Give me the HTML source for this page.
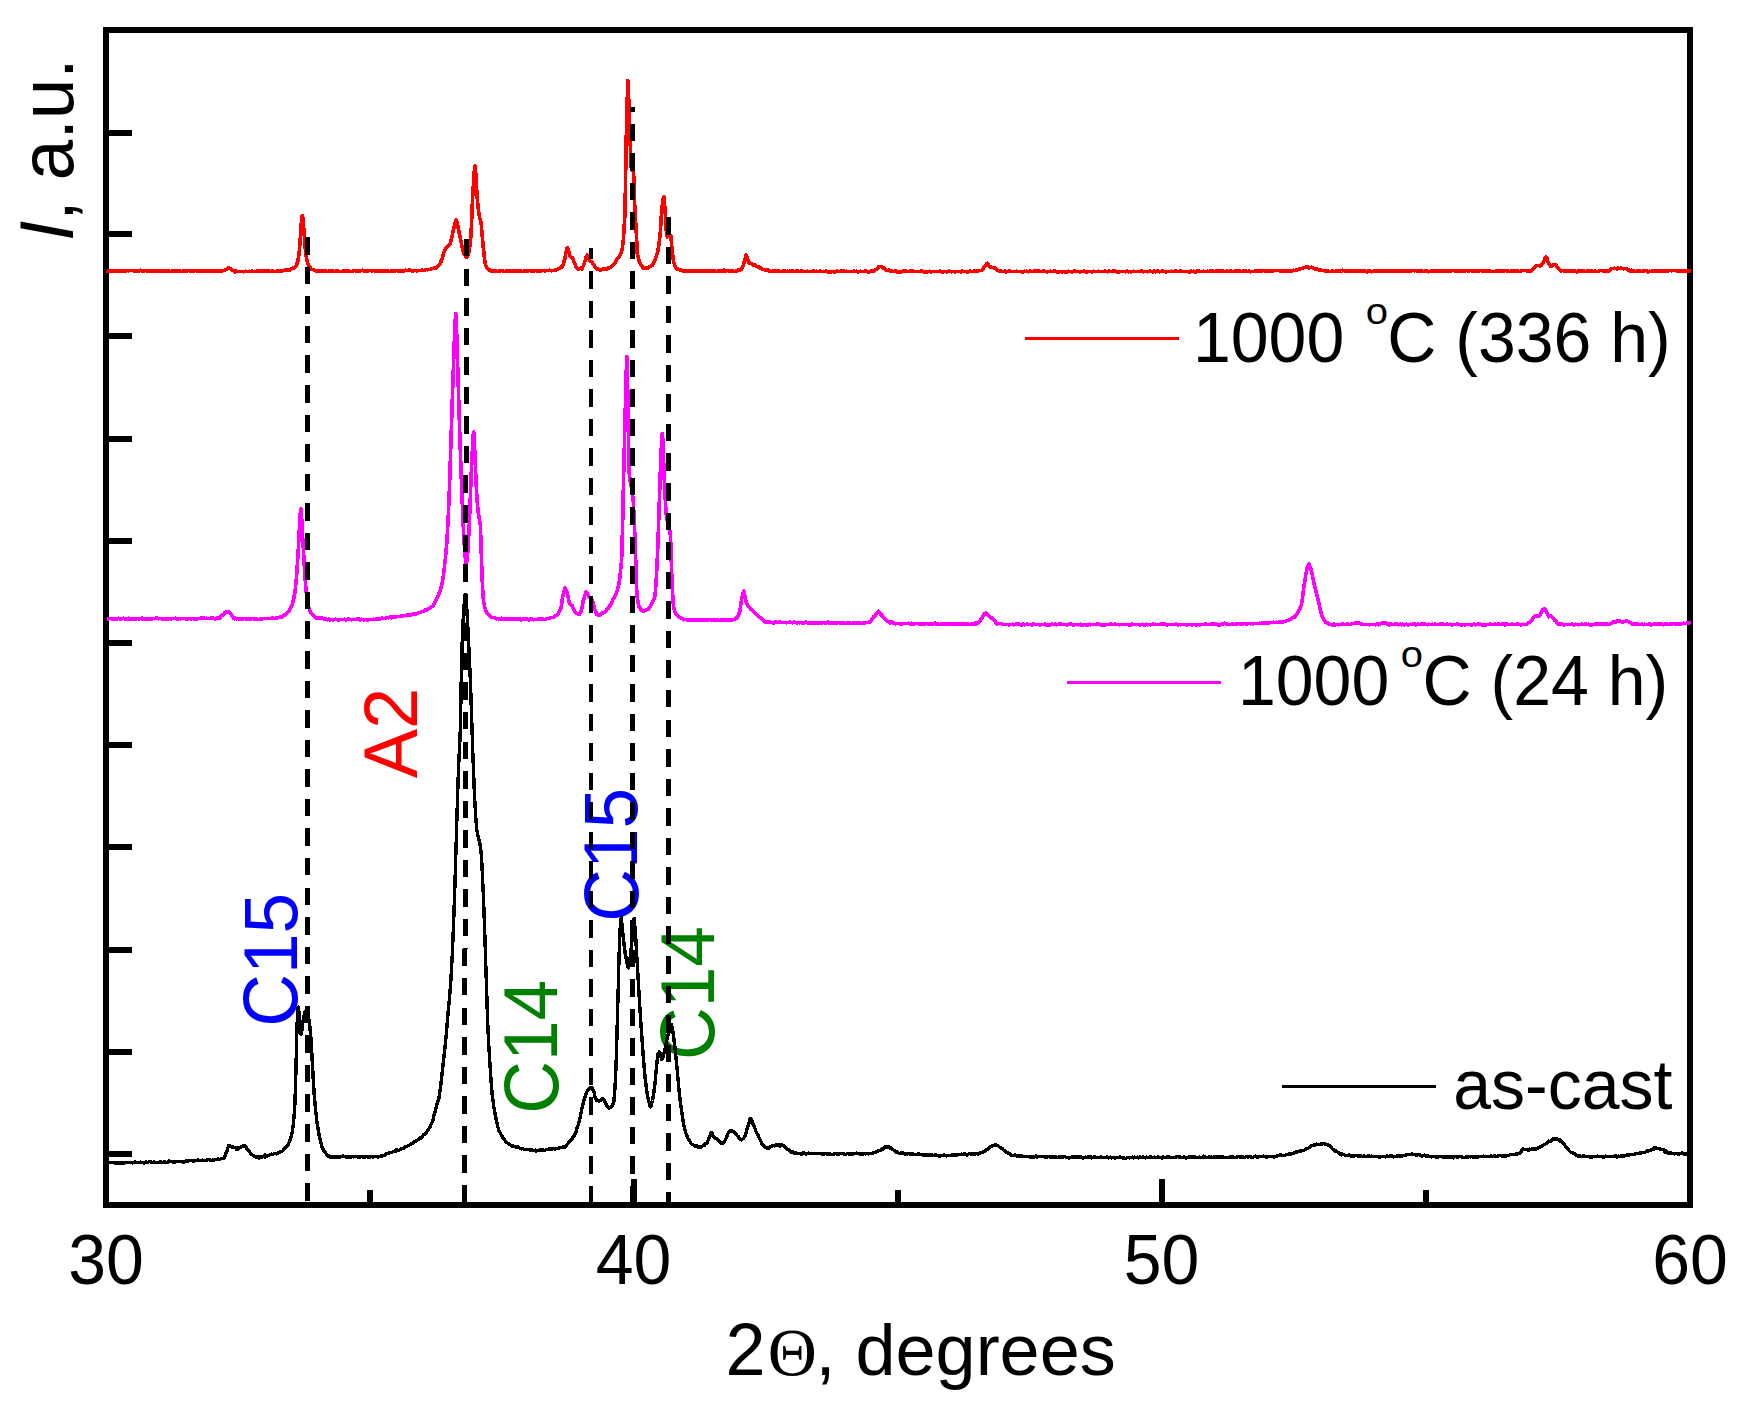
<!DOCTYPE html>
<html><head><meta charset="utf-8"><title>XRD patterns</title>
<style>
html,body{margin:0;padding:0;background:#fff;}
svg{display:block;}
text{font-family:"Liberation Sans",sans-serif;fill:#000;}
.ser{font-family:"Liberation Serif",serif;}
</style></head><body>
<svg width="1746" height="1410" viewBox="0 0 1746 1410">
<rect x="0" y="0" width="1746" height="1410" fill="#fff"/>
<g fill="none" stroke="#000" stroke-width="6" stroke-linecap="butt" shape-rendering="crispEdges">
<rect x="106.0" y="30.0" width="1584.0" height="1175.0"/>
<line x1="106.0" y1="133.0" x2="132" y2="133.0"/>
<line x1="106.0" y1="234.0" x2="132" y2="234.0"/>
<line x1="106.0" y1="336.3" x2="132" y2="336.3"/>
<line x1="106.0" y1="438.5" x2="132" y2="438.5"/>
<line x1="106.0" y1="540.7" x2="132" y2="540.7"/>
<line x1="106.0" y1="642.9" x2="132" y2="642.9"/>
<line x1="106.0" y1="745.1" x2="132" y2="745.1"/>
<line x1="106.0" y1="847.4" x2="132" y2="847.4"/>
<line x1="106.0" y1="949.6" x2="132" y2="949.6"/>
<line x1="106.0" y1="1051.8" x2="132" y2="1051.8"/>
<line x1="106.0" y1="1154.0" x2="132" y2="1154.0"/>
<line x1="370.0" y1="1205.0" x2="370.0" y2="1190"/>
<line x1="898.0" y1="1205.0" x2="898.0" y2="1190"/>
<line x1="1426.0" y1="1205.0" x2="1426.0" y2="1190"/>
<line x1="634.0" y1="1205.0" x2="634.0" y2="1179"/>
<line x1="1162.0" y1="1205.0" x2="1162.0" y2="1179"/>
</g>
<g font-size="73">
<text transform="translate(296.9,1026.8) rotate(-90) scale(1,1.066)" style="fill:#00f">C</text>
<text transform="translate(296.5,974.1) rotate(-90) scale(1,1.04)" style="fill:#00f">15</text>
<text transform="translate(557.7,1113.8) rotate(-90) scale(1,1.066)" style="fill:#008000">C</text>
<text transform="translate(557.3,1061.1) rotate(-90) scale(1,1.04)" style="fill:#008000">14</text>
<text transform="translate(637.7,921.8) rotate(-90) scale(1,1.066)" style="fill:#00f">C</text>
<text transform="translate(637.3,869.1) rotate(-90) scale(1,1.04)" style="fill:#00f">15</text>
<text transform="translate(714.4,1060) rotate(-90) scale(1,1.066)" style="fill:#008000">C</text>
<text transform="translate(714,1007.3) rotate(-90) scale(1,1.04)" style="fill:#008000">14</text>
<text transform="translate(417,778.3) rotate(-90) scale(1,1.015)" font-size="74" style="fill:#f00">A2</text>
</g>
<g fill="none" stroke-linejoin="round" stroke-linecap="butt" shape-rendering="crispEdges">
<path stroke="#000" stroke-width="3.4" d="M106.5,1162.6 L107.8,1162.6 L109.1,1162.3 L110.4,1162.8 L111.7,1162.5 L113.0,1162.2 L114.3,1162.6 L115.6,1163.3 L116.9,1162.3 L118.2,1163.0 L119.5,1163.1 L120.8,1163.1 L122.1,1162.2 L123.4,1163.3 L124.7,1162.6 L126.0,1162.4 L127.3,1162.4 L128.6,1162.7 L129.9,1162.5 L131.2,1162.4 L132.5,1163.0 L133.8,1162.2 L135.1,1162.1 L136.4,1162.7 L137.7,1162.7 L139.0,1162.8 L140.3,1162.0 L141.6,1162.8 L142.9,1162.6 L144.2,1163.0 L145.5,1161.9 L146.8,1162.4 L148.1,1162.2 L149.4,1161.7 L150.7,1162.0 L152.0,1162.7 L153.3,1162.1 L154.6,1162.0 L155.9,1162.5 L157.2,1162.6 L158.5,1162.5 L159.8,1161.8 L161.1,1162.1 L162.4,1162.5 L163.7,1161.8 L165.0,1161.8 L166.3,1162.4 L167.6,1162.6 L168.7,1161.6 L168.9,1161.0 L170.2,1161.4 L171.5,1161.6 L172.8,1161.9 L174.1,1162.1 L175.4,1161.8 L176.7,1161.5 L178.0,1161.8 L179.3,1161.3 L180.6,1161.6 L181.9,1161.3 L183.2,1162.5 L184.5,1161.7 L185.8,1161.0 L187.1,1160.9 L188.4,1161.1 L189.7,1160.5 L191.0,1160.8 L192.3,1160.7 L193.6,1161.2 L194.9,1160.7 L196.2,1160.4 L197.5,1160.2 L198.8,1160.1 L200.0,1160.5 L200.1,1160.4 L201.4,1160.8 L202.7,1160.1 L204.0,1160.7 L205.3,1160.3 L206.6,1160.2 L207.9,1159.3 L209.2,1159.5 L210.5,1160.2 L211.8,1160.4 L213.1,1159.9 L214.4,1160.0 L215.7,1159.4 L217.0,1159.3 L218.3,1159.0 L219.6,1159.4 L220.9,1158.9 L222.2,1158.5 L223.5,1158.1 L223.7,1158.4 L224.8,1156.7 L226.1,1152.7 L226.5,1152.7 L227.4,1149.3 L228.7,1145.6 L229.0,1146.0 L230.0,1146.0 L231.3,1146.4 L232.6,1147.5 L233.0,1147.1 L233.9,1147.6 L235.2,1147.5 L236.5,1149.2 L237.5,1148.1 L237.8,1149.0 L239.1,1147.9 L240.4,1147.0 L241.0,1146.9 L241.7,1146.7 L243.0,1145.9 L243.9,1146.1 L244.3,1145.6 L245.6,1147.0 L246.9,1148.2 L247.0,1148.8 L248.2,1150.1 L249.5,1151.8 L250.8,1153.6 L251.2,1154.0 L252.1,1154.8 L253.4,1155.8 L254.7,1156.2 L255.0,1156.2 L256.0,1157.1 L257.3,1156.6 L258.6,1157.2 L259.2,1158.1 L259.9,1156.4 L261.2,1156.9 L262.5,1157.1 L263.8,1155.7 L265.0,1157.0 L265.1,1155.0 L266.4,1156.2 L267.7,1155.9 L269.0,1155.3 L270.3,1154.6 L271.0,1154.6 L271.6,1154.0 L272.9,1154.5 L274.2,1153.5 L275.5,1153.6 L276.8,1153.9 L278.1,1152.8 L278.7,1152.9 L279.4,1152.8 L280.7,1151.5 L282.0,1151.6 L283.3,1150.2 L284.0,1148.9 L284.6,1149.0 L285.9,1147.4 L287.2,1145.8 L287.9,1145.0 L288.5,1143.6 L289.8,1141.0 L290.5,1138.2 L291.1,1137.0 L292.4,1131.0 L292.4,1131.3 L293.7,1120.8 L294.7,1107.8 L295.0,1101.2 L295.9,1071.8 L296.3,1054.6 L297.0,1026.6 L297.6,1013.5 L298.2,1007.1 L298.9,1011.5 L299.5,1018.1 L300.2,1026.4 L301.1,1034.4 L301.5,1033.2 L302.8,1022.9 L303.0,1021.7 L304.1,1015.5 L305.0,1012.1 L305.4,1012.0 L306.7,1013.2 L307.0,1012.9 L308.0,1015.3 L309.0,1019.8 L309.3,1021.1 L310.6,1034.9 L310.8,1036.5 L311.9,1054.9 L312.5,1065.7 L313.2,1078.8 L314.2,1094.5 L314.5,1098.2 L315.8,1111.6 L317.1,1123.2 L317.6,1126.0 L318.4,1131.4 L319.7,1138.2 L321.0,1143.4 L322.2,1147.8 L322.3,1147.4 L323.6,1150.2 L324.9,1152.1 L326.0,1153.4 L326.2,1154.1 L327.5,1155.8 L328.8,1155.8 L329.0,1156.8 L330.1,1156.8 L331.4,1157.1 L332.7,1157.1 L334.0,1156.5 L335.0,1156.6 L335.3,1157.7 L336.6,1157.1 L337.9,1156.5 L339.2,1157.1 L340.5,1156.9 L341.8,1156.3 L343.1,1156.1 L344.4,1156.4 L345.7,1157.1 L347.0,1157.0 L348.3,1156.9 L349.6,1157.1 L350.9,1157.2 L352.2,1156.2 L353.5,1156.9 L354.8,1156.7 L356.1,1156.5 L357.4,1156.8 L358.7,1156.9 L360.0,1156.9 L361.3,1156.4 L362.6,1156.8 L363.9,1157.7 L365.2,1156.5 L366.5,1156.3 L367.8,1157.0 L369.1,1157.2 L370.4,1157.1 L371.7,1156.5 L373.0,1157.3 L374.3,1156.6 L375.0,1156.5 L375.6,1156.7 L376.9,1156.8 L378.2,1156.9 L379.5,1156.6 L380.8,1156.1 L382.1,1156.1 L383.4,1155.4 L384.7,1155.2 L386.0,1153.9 L387.3,1153.4 L388.6,1153.8 L389.9,1152.5 L391.2,1152.4 L392.5,1152.0 L393.2,1151.6 L393.8,1151.4 L395.1,1151.7 L396.4,1149.7 L397.7,1150.5 L399.0,1150.6 L400.3,1149.2 L401.6,1148.6 L402.9,1148.4 L404.2,1148.2 L405.5,1146.5 L406.8,1146.3 L408.1,1145.6 L409.3,1145.2 L409.4,1145.0 L410.7,1144.5 L412.0,1143.4 L413.3,1142.8 L414.6,1141.8 L415.9,1141.0 L417.2,1140.3 L418.5,1139.4 L419.8,1138.0 L421.1,1138.0 L422.4,1136.3 L423.7,1134.6 L425.0,1134.2 L425.3,1133.2 L426.3,1132.6 L427.6,1130.6 L428.9,1128.7 L430.2,1126.4 L431.5,1123.4 L432.2,1122.0 L432.8,1121.1 L434.1,1114.8 L435.4,1110.3 L436.0,1108.2 L436.7,1105.2 L438.0,1100.7 L439.0,1097.8 L439.3,1095.3 L440.6,1087.0 L441.9,1075.0 L443.0,1065.0 L443.2,1063.4 L444.5,1051.9 L445.8,1039.5 L446.0,1037.2 L447.1,1024.7 L448.4,1009.2 L448.5,1008.5 L449.7,995.6 L450.5,985.2 L451.0,977.9 L452.3,954.3 L452.5,949.8 L453.6,923.0 L454.5,897.3 L454.9,885.3 L456.0,849.2 L456.2,842.8 L457.5,797.9 L458.2,777.6 L458.8,762.9 L460.1,736.4 L460.4,726.4 L461.4,671.7 L461.5,666.8 L462.6,628.9 L462.7,627.6 L464.0,605.1 L464.0,605.7 L465.3,594.7 L465.5,595.7 L466.6,605.8 L467.0,612.3 L467.9,628.9 L468.1,634.1 L469.2,654.8 L470.3,678.3 L470.5,683.1 L471.8,722.4 L472.5,744.2 L473.1,760.6 L474.4,793.1 L474.7,799.2 L475.7,816.7 L477.0,831.8 L477.0,831.3 L478.3,837.2 L479.6,842.5 L480.2,845.3 L480.9,850.4 L481.5,856.8 L482.2,871.3 L482.4,875.7 L483.5,897.6 L483.5,897.4 L484.8,935.0 L485.0,940.1 L486.1,974.3 L487.4,1014.2 L488.0,1029.3 L488.7,1043.9 L490.0,1065.3 L490.0,1064.9 L491.3,1084.2 L492.3,1095.4 L492.6,1097.6 L493.9,1107.4 L495.0,1113.1 L495.2,1115.0 L496.5,1120.6 L497.8,1126.7 L499.0,1131.0 L499.1,1130.9 L500.4,1133.2 L501.7,1135.6 L503.0,1137.8 L504.0,1139.1 L504.3,1139.3 L505.6,1141.3 L506.9,1142.7 L508.2,1143.6 L509.5,1144.4 L510.0,1144.6 L510.8,1145.3 L512.1,1146.0 L513.4,1146.2 L514.7,1146.8 L516.0,1146.9 L517.3,1146.8 L518.6,1147.3 L519.9,1148.3 L520.0,1148.2 L521.2,1148.9 L522.5,1148.5 L523.8,1149.1 L525.1,1149.6 L526.4,1149.7 L527.7,1149.3 L529.0,1149.7 L530.3,1150.0 L531.6,1149.7 L532.9,1150.4 L534.2,1150.7 L535.5,1150.2 L536.3,1151.1 L536.8,1150.3 L538.1,1150.3 L539.4,1150.2 L540.7,1149.9 L542.0,1150.2 L543.3,1149.9 L544.6,1150.4 L545.9,1149.8 L547.2,1149.6 L548.5,1149.1 L549.8,1148.5 L550.0,1149.0 L551.1,1148.5 L552.4,1149.1 L553.7,1148.6 L555.0,1149.1 L556.3,1148.5 L557.6,1148.4 L558.9,1148.0 L560.2,1147.7 L561.5,1147.6 L562.8,1147.4 L563.4,1146.6 L564.1,1146.8 L565.4,1146.9 L566.7,1144.9 L568.0,1143.6 L569.3,1142.0 L570.6,1140.0 L571.9,1139.3 L572.8,1137.5 L573.2,1137.0 L574.5,1135.2 L575.8,1132.4 L577.1,1127.6 L578.4,1124.4 L578.6,1123.6 L579.7,1119.3 L581.0,1113.0 L582.3,1106.4 L583.3,1103.0 L583.6,1101.6 L584.9,1097.1 L586.2,1093.5 L587.5,1090.5 L588.0,1089.7 L588.8,1088.7 L590.1,1088.1 L591.0,1087.4 L591.4,1087.3 L592.7,1089.0 L593.5,1090.9 L594.0,1092.1 L595.3,1097.9 L596.2,1100.1 L596.6,1099.4 L597.9,1100.8 L599.2,1101.2 L599.5,1101.1 L600.5,1100.2 L601.8,1099.8 L602.7,1098.6 L603.1,1098.6 L604.4,1100.6 L605.5,1103.0 L605.7,1103.7 L607.0,1106.2 L608.3,1107.9 L609.0,1107.7 L609.6,1107.9 L610.9,1107.1 L611.5,1106.9 L612.2,1105.5 L613.5,1103.1 L613.7,1102.6 L614.8,1090.7 L616.0,1067.5 L616.1,1064.7 L617.4,1019.5 L618.0,996.8 L618.7,969.0 L619.6,938.9 L620.0,930.7 L621.2,918.0 L621.3,917.5 L622.6,931.2 L623.0,935.2 L623.9,942.8 L625.2,953.5 L625.5,954.7 L626.5,960.5 L627.8,966.2 L628.5,967.9 L629.1,966.1 L630.4,955.4 L631.0,949.8 L631.7,943.0 L633.0,925.4 L634.1,918.3 L634.3,919.4 L635.6,935.1 L636.9,958.9 L637.1,961.3 L638.2,979.5 L639.5,1001.9 L640.7,1020.4 L640.8,1022.4 L642.1,1040.0 L643.4,1058.3 L644.7,1073.0 L645.3,1079.5 L646.0,1084.9 L647.3,1094.6 L648.0,1097.8 L648.6,1100.4 L649.9,1105.8 L650.5,1106.8 L651.2,1105.4 L652.5,1100.5 L652.5,1100.5 L653.8,1092.6 L654.7,1085.6 L655.1,1082.5 L656.4,1067.4 L657.7,1055.7 L658.2,1053.3 L659.0,1052.4 L659.4,1051.8 L660.3,1054.0 L661.6,1059.7 L661.7,1059.6 L662.9,1057.3 L663.5,1055.0 L664.2,1052.2 L665.2,1048.4 L665.5,1047.8 L666.8,1040.3 L668.0,1034.7 L668.1,1034.5 L669.4,1028.3 L670.7,1024.2 L671.1,1024.2 L672.0,1027.1 L673.3,1034.0 L673.5,1036.0 L674.6,1044.5 L675.8,1055.6 L675.9,1056.5 L677.2,1069.8 L678.5,1084.7 L679.8,1097.2 L680.4,1102.4 L681.1,1107.6 L682.4,1116.6 L683.7,1124.2 L685.0,1130.5 L685.1,1130.5 L686.3,1134.5 L687.6,1137.7 L688.5,1139.1 L688.9,1139.9 L690.2,1142.0 L691.5,1144.1 L692.2,1144.2 L692.8,1144.4 L694.1,1145.5 L695.4,1146.1 L696.7,1145.7 L698.0,1147.3 L699.3,1146.9 L700.3,1146.9 L700.6,1147.3 L701.9,1146.5 L703.2,1145.5 L704.5,1145.7 L705.0,1144.1 L705.8,1143.9 L707.1,1142.9 L707.4,1141.8 L708.4,1139.7 L709.7,1135.9 L710.0,1135.9 L711.0,1132.5 L711.6,1132.3 L712.3,1133.8 L713.0,1135.5 L713.6,1136.1 L714.4,1137.7 L714.9,1137.9 L716.2,1138.6 L717.5,1139.4 L717.5,1139.4 L718.8,1140.7 L720.1,1142.5 L721.4,1142.9 L721.4,1143.2 L722.7,1143.2 L724.0,1142.3 L724.0,1142.5 L725.3,1139.9 L726.6,1137.1 L727.5,1135.3 L727.9,1133.7 L729.2,1131.9 L730.5,1130.5 L730.8,1131.0 L731.8,1130.9 L733.1,1131.5 L734.4,1132.5 L735.0,1133.0 L735.7,1133.2 L737.0,1135.5 L738.3,1136.7 L739.6,1138.7 L740.9,1139.4 L741.3,1139.8 L742.2,1139.1 L743.5,1138.4 L744.8,1135.9 L744.8,1136.5 L746.1,1132.5 L747.4,1127.9 L747.5,1127.5 L748.7,1123.9 L750.0,1119.1 L750.7,1119.3 L751.3,1119.0 L752.6,1123.0 L753.9,1125.7 L754.5,1127.6 L755.2,1128.9 L756.5,1133.0 L757.8,1134.7 L758.9,1137.5 L759.1,1137.7 L760.4,1140.1 L761.7,1143.2 L762.5,1144.8 L763.0,1145.0 L764.3,1146.8 L765.6,1147.4 L766.9,1148.0 L767.0,1147.9 L768.2,1147.9 L769.5,1147.9 L770.8,1146.6 L772.0,1146.1 L772.1,1145.7 L773.4,1145.4 L774.7,1145.9 L776.0,1144.7 L777.3,1144.7 L777.6,1145.0 L778.6,1144.9 L779.9,1145.9 L781.2,1144.4 L782.5,1145.6 L783.4,1146.0 L783.8,1145.4 L785.1,1146.8 L786.4,1148.6 L786.5,1149.1 L787.7,1149.2 L789.0,1150.0 L790.3,1151.8 L790.5,1152.1 L791.6,1151.7 L792.9,1151.4 L794.2,1153.2 L795.5,1152.8 L796.8,1153.6 L798.1,1153.3 L799.4,1153.2 L799.8,1153.2 L800.7,1154.0 L802.0,1154.0 L803.3,1152.7 L804.6,1153.1 L805.9,1154.2 L807.2,1153.4 L808.5,1153.0 L809.8,1153.6 L811.1,1153.6 L812.4,1153.6 L813.7,1153.5 L815.0,1153.5 L816.3,1153.5 L817.6,1153.8 L818.9,1153.4 L820.2,1153.6 L821.5,1153.7 L822.8,1154.2 L824.1,1153.9 L825.4,1153.7 L826.7,1154.0 L828.0,1153.9 L829.3,1154.2 L830.6,1154.0 L831.9,1154.5 L833.2,1154.3 L834.5,1153.8 L835.8,1153.7 L837.1,1154.2 L838.4,1154.1 L839.7,1153.8 L841.0,1153.3 L842.3,1153.2 L843.6,1154.0 L844.9,1154.2 L846.2,1154.2 L847.5,1153.4 L848.8,1154.3 L850.1,1153.7 L851.4,1154.0 L852.7,1154.1 L854.0,1153.6 L855.3,1153.7 L856.6,1153.1 L857.9,1153.6 L859.2,1153.2 L860.0,1154.1 L860.5,1153.9 L861.8,1154.2 L863.1,1154.0 L864.4,1153.6 L865.7,1153.9 L867.0,1153.6 L868.3,1153.9 L869.6,1153.7 L870.0,1153.2 L870.9,1153.5 L872.2,1153.2 L873.5,1152.7 L874.8,1152.7 L876.0,1152.7 L876.1,1151.8 L877.4,1151.4 L878.7,1150.2 L880.0,1150.5 L881.3,1149.7 L882.0,1148.7 L882.6,1149.1 L883.9,1147.8 L884.5,1146.9 L885.2,1146.9 L886.5,1146.5 L887.3,1147.1 L887.8,1146.3 L889.1,1147.0 L890.4,1148.4 L890.5,1147.7 L891.7,1148.7 L893.0,1149.8 L894.3,1150.6 L895.0,1151.5 L895.6,1151.9 L896.9,1152.0 L898.2,1152.9 L899.5,1153.6 L900.0,1153.6 L900.8,1152.7 L902.1,1153.1 L903.4,1153.0 L904.7,1154.1 L906.0,1154.0 L907.3,1154.1 L908.6,1153.6 L909.9,1153.6 L910.0,1154.0 L911.2,1154.1 L912.5,1153.8 L913.8,1154.3 L915.1,1154.6 L916.4,1154.5 L917.7,1154.1 L919.0,1153.8 L920.3,1154.6 L921.6,1154.8 L922.9,1154.8 L924.2,1154.8 L925.5,1154.8 L926.8,1155.4 L928.1,1155.1 L929.4,1155.3 L930.7,1154.9 L932.0,1155.1 L933.3,1155.4 L934.6,1155.0 L935.9,1155.0 L937.2,1155.4 L938.5,1156.0 L939.8,1155.6 L940.0,1156.1 L941.1,1155.4 L942.4,1155.4 L943.7,1154.9 L945.0,1155.2 L946.3,1155.9 L947.6,1155.4 L948.9,1155.5 L950.2,1155.4 L951.5,1155.0 L952.8,1154.9 L954.1,1154.9 L955.4,1155.0 L956.7,1154.9 L958.0,1154.8 L959.3,1154.6 L960.0,1154.2 L960.6,1154.4 L961.9,1154.1 L963.2,1154.7 L964.5,1153.5 L965.8,1154.2 L967.1,1155.1 L968.4,1154.0 L969.7,1153.7 L971.0,1154.0 L972.3,1154.4 L973.6,1153.8 L974.9,1154.0 L976.2,1153.7 L977.5,1153.4 L978.0,1154.7 L978.8,1153.4 L980.1,1152.9 L981.4,1152.4 L982.7,1152.2 L984.0,1151.6 L985.0,1151.3 L985.3,1150.9 L986.6,1149.4 L987.9,1149.2 L989.2,1147.9 L990.0,1147.4 L990.5,1146.7 L991.8,1146.2 L993.1,1145.4 L994.4,1145.2 L995.6,1144.4 L995.7,1145.0 L997.0,1145.5 L998.3,1145.9 L999.6,1147.2 L1000.9,1148.1 L1001.0,1148.8 L1002.2,1148.3 L1003.5,1150.1 L1004.8,1150.5 L1006.1,1151.8 L1007.4,1153.0 L1008.0,1152.8 L1008.7,1153.4 L1010.0,1153.6 L1011.3,1155.2 L1012.6,1155.2 L1013.9,1155.7 L1015.0,1155.0 L1015.2,1155.1 L1016.5,1156.1 L1017.8,1155.8 L1019.1,1156.0 L1020.4,1156.3 L1021.7,1155.8 L1023.0,1156.7 L1024.3,1156.5 L1025.0,1156.7 L1025.6,1156.3 L1026.9,1156.7 L1028.2,1156.3 L1029.5,1157.0 L1030.8,1157.1 L1032.1,1157.0 L1033.4,1156.9 L1034.7,1157.0 L1036.0,1155.7 L1037.3,1157.1 L1038.6,1156.7 L1039.9,1156.8 L1041.2,1156.7 L1042.5,1156.3 L1043.8,1156.6 L1045.1,1157.1 L1046.4,1157.4 L1047.7,1156.7 L1049.0,1156.6 L1050.3,1157.5 L1051.6,1156.6 L1052.9,1157.7 L1054.2,1157.0 L1055.5,1156.6 L1056.8,1157.3 L1058.1,1157.6 L1059.4,1156.4 L1060.0,1157.6 L1060.7,1156.9 L1062.0,1157.6 L1063.3,1156.9 L1064.6,1156.4 L1065.9,1157.2 L1067.2,1157.4 L1068.5,1157.9 L1069.8,1157.8 L1071.1,1157.4 L1072.4,1157.0 L1073.7,1156.9 L1075.0,1157.0 L1076.3,1156.8 L1077.6,1157.1 L1078.9,1156.2 L1080.2,1157.3 L1081.5,1157.2 L1082.8,1158.2 L1084.1,1157.5 L1085.4,1157.1 L1086.7,1157.5 L1088.0,1156.8 L1089.3,1157.1 L1090.6,1156.6 L1091.9,1157.9 L1093.2,1157.5 L1094.5,1156.9 L1095.8,1157.3 L1097.1,1157.7 L1098.4,1157.6 L1099.7,1157.5 L1101.0,1157.1 L1102.3,1157.2 L1103.6,1157.4 L1104.9,1157.8 L1106.2,1157.1 L1107.5,1157.0 L1108.8,1157.9 L1110.1,1157.1 L1111.4,1157.9 L1112.7,1157.5 L1114.0,1157.8 L1115.3,1158.1 L1116.6,1157.7 L1117.9,1157.8 L1119.2,1157.1 L1120.5,1157.2 L1121.8,1157.7 L1123.1,1158.1 L1124.4,1158.0 L1125.7,1158.4 L1127.0,1157.6 L1128.3,1157.6 L1129.6,1157.9 L1130.0,1157.5 L1130.9,1157.5 L1132.2,1157.1 L1133.5,1157.9 L1134.8,1157.1 L1136.1,1157.7 L1137.4,1157.0 L1138.7,1157.9 L1140.0,1157.1 L1141.3,1157.8 L1142.6,1156.9 L1143.9,1157.3 L1145.2,1157.9 L1146.5,1157.2 L1147.8,1157.5 L1149.1,1157.3 L1150.4,1156.6 L1151.7,1157.6 L1153.0,1157.6 L1154.3,1157.1 L1155.6,1157.7 L1156.9,1157.2 L1158.2,1157.1 L1159.5,1157.5 L1160.8,1157.2 L1162.1,1158.3 L1163.4,1156.9 L1164.7,1157.7 L1166.0,1157.8 L1167.3,1156.7 L1168.6,1156.8 L1169.9,1157.6 L1171.2,1157.2 L1172.5,1157.6 L1173.8,1157.8 L1175.1,1157.3 L1176.4,1157.0 L1177.7,1156.4 L1179.0,1157.5 L1180.3,1157.0 L1181.6,1157.5 L1182.9,1157.5 L1184.2,1156.8 L1185.5,1158.0 L1186.8,1157.8 L1188.1,1157.7 L1189.4,1156.9 L1190.7,1157.2 L1192.0,1157.1 L1193.3,1157.2 L1194.6,1156.9 L1195.9,1157.5 L1197.2,1157.4 L1198.5,1157.4 L1199.8,1157.1 L1201.1,1157.8 L1202.4,1157.3 L1203.7,1156.2 L1205.0,1157.0 L1206.3,1157.2 L1207.6,1157.6 L1208.9,1157.1 L1210.2,1157.1 L1211.5,1157.0 L1212.8,1157.5 L1214.1,1157.0 L1215.4,1157.0 L1216.7,1156.9 L1218.0,1157.4 L1219.3,1157.0 L1220.6,1156.5 L1221.9,1157.4 L1223.2,1156.9 L1224.5,1157.3 L1225.8,1157.3 L1227.1,1157.6 L1228.4,1157.5 L1229.7,1156.9 L1231.0,1157.0 L1232.3,1156.6 L1233.6,1157.7 L1234.9,1157.2 L1236.2,1157.6 L1237.5,1156.9 L1238.8,1156.2 L1240.0,1157.6 L1240.1,1157.0 L1241.4,1157.0 L1242.7,1157.0 L1244.0,1157.2 L1245.3,1157.2 L1246.6,1156.3 L1247.9,1157.3 L1249.2,1156.7 L1250.5,1156.7 L1251.8,1157.5 L1253.1,1157.2 L1254.4,1156.7 L1255.7,1156.1 L1257.0,1156.9 L1258.3,1157.0 L1259.6,1156.7 L1260.9,1156.3 L1262.2,1156.4 L1263.5,1156.2 L1264.8,1156.7 L1266.1,1156.9 L1267.4,1157.0 L1268.7,1156.3 L1270.0,1156.6 L1270.0,1156.7 L1271.3,1156.3 L1272.6,1156.3 L1273.9,1157.1 L1275.2,1156.2 L1276.5,1156.3 L1277.8,1155.7 L1279.1,1155.7 L1280.4,1154.9 L1281.7,1155.3 L1283.0,1155.6 L1284.0,1155.8 L1284.3,1155.4 L1285.6,1155.0 L1286.9,1154.6 L1288.2,1154.1 L1289.5,1154.0 L1290.8,1154.1 L1292.1,1153.2 L1293.4,1153.6 L1294.7,1152.6 L1296.0,1151.9 L1297.3,1151.9 L1298.6,1151.3 L1299.9,1151.0 L1300.0,1151.9 L1301.2,1151.0 L1302.5,1150.7 L1303.8,1150.4 L1305.1,1149.8 L1306.4,1148.5 L1307.7,1148.6 L1309.0,1147.6 L1310.0,1147.0 L1310.3,1147.0 L1311.6,1145.7 L1312.9,1145.3 L1314.2,1145.0 L1315.5,1144.8 L1316.8,1144.1 L1317.0,1144.2 L1318.1,1144.4 L1319.4,1144.4 L1320.7,1144.1 L1322.0,1144.2 L1322.4,1143.5 L1323.3,1143.6 L1324.6,1144.1 L1325.9,1144.2 L1327.2,1144.5 L1328.0,1145.6 L1328.5,1145.1 L1329.8,1145.7 L1331.1,1147.3 L1332.4,1149.0 L1333.7,1149.5 L1335.0,1151.0 L1335.0,1150.3 L1336.3,1151.2 L1337.6,1152.0 L1338.9,1153.0 L1340.2,1154.4 L1341.0,1153.6 L1341.5,1154.8 L1342.8,1154.1 L1344.1,1154.7 L1345.4,1155.4 L1346.7,1155.6 L1348.0,1155.6 L1349.3,1155.0 L1350.0,1155.8 L1350.6,1155.3 L1351.9,1156.8 L1353.2,1155.8 L1354.5,1156.0 L1355.8,1155.5 L1357.1,1155.9 L1358.4,1155.6 L1359.7,1156.5 L1361.0,1156.1 L1362.3,1156.4 L1363.6,1156.0 L1364.9,1156.1 L1366.2,1156.8 L1367.5,1156.0 L1368.8,1155.7 L1370.1,1156.6 L1371.4,1156.0 L1372.7,1156.3 L1374.0,1156.8 L1375.3,1156.2 L1376.6,1156.8 L1377.9,1156.2 L1379.2,1157.1 L1380.0,1157.0 L1380.5,1156.3 L1381.8,1156.4 L1383.1,1156.2 L1384.4,1156.5 L1385.7,1156.9 L1387.0,1155.9 L1388.3,1156.8 L1389.6,1155.9 L1390.9,1156.0 L1392.2,1155.6 L1393.5,1157.1 L1394.8,1156.2 L1396.1,1156.3 L1397.4,1155.9 L1398.7,1156.5 L1400.0,1155.2 L1400.0,1156.0 L1401.3,1156.7 L1402.6,1155.6 L1403.9,1155.5 L1405.2,1155.5 L1406.5,1154.6 L1407.8,1154.7 L1409.1,1154.8 L1410.4,1154.4 L1411.7,1154.3 L1412.0,1154.1 L1413.0,1154.3 L1414.3,1154.3 L1415.6,1155.0 L1416.9,1155.0 L1418.2,1154.8 L1419.5,1154.3 L1420.8,1155.7 L1422.1,1155.9 L1423.4,1155.5 L1424.7,1155.2 L1425.0,1155.6 L1426.0,1156.4 L1427.3,1155.7 L1428.6,1156.1 L1429.9,1156.4 L1431.2,1156.9 L1432.5,1156.5 L1433.8,1156.5 L1435.1,1156.4 L1436.4,1157.3 L1437.7,1157.1 L1439.0,1156.7 L1440.3,1156.3 L1441.6,1156.6 L1442.9,1157.1 L1444.2,1156.7 L1445.5,1157.3 L1446.8,1157.1 L1448.1,1157.1 L1449.4,1157.2 L1450.0,1157.2 L1450.7,1156.7 L1452.0,1156.9 L1453.3,1157.9 L1454.6,1156.5 L1455.9,1156.8 L1457.2,1157.4 L1458.5,1156.9 L1459.8,1156.7 L1461.1,1156.5 L1462.4,1157.2 L1463.7,1157.3 L1465.0,1157.5 L1466.3,1156.9 L1467.6,1157.3 L1468.9,1156.5 L1470.2,1156.9 L1471.5,1156.6 L1472.8,1156.9 L1474.1,1157.1 L1475.4,1157.2 L1476.7,1156.4 L1478.0,1157.2 L1479.3,1156.5 L1480.6,1156.3 L1481.9,1156.6 L1483.2,1156.1 L1484.5,1156.6 L1485.8,1156.7 L1487.1,1156.5 L1488.4,1156.7 L1489.7,1156.4 L1490.0,1156.5 L1491.0,1155.9 L1492.3,1156.4 L1493.6,1156.1 L1494.9,1156.1 L1496.2,1156.2 L1497.5,1156.2 L1498.8,1155.4 L1500.1,1155.4 L1501.4,1155.8 L1502.7,1155.9 L1504.0,1155.8 L1505.3,1155.8 L1506.6,1155.9 L1507.9,1155.4 L1509.2,1155.1 L1510.0,1154.6 L1510.5,1154.6 L1511.8,1154.6 L1513.1,1154.7 L1514.4,1154.5 L1515.7,1154.2 L1517.0,1153.9 L1518.3,1153.8 L1519.6,1153.2 L1520.0,1153.1 L1520.9,1152.0 L1522.2,1149.5 L1522.7,1149.0 L1523.5,1149.6 L1524.8,1149.6 L1526.1,1149.4 L1527.4,1149.3 L1528.7,1150.4 L1530.0,1149.2 L1530.0,1149.4 L1531.3,1149.5 L1532.6,1148.8 L1533.9,1149.0 L1535.2,1149.3 L1536.5,1148.6 L1537.8,1148.0 L1539.1,1147.6 L1540.0,1147.0 L1540.4,1147.2 L1541.7,1146.1 L1543.0,1145.2 L1544.3,1144.5 L1545.6,1143.9 L1546.9,1142.8 L1548.0,1142.3 L1548.2,1141.1 L1549.5,1141.5 L1550.8,1141.1 L1552.1,1140.1 L1553.0,1139.2 L1553.4,1138.9 L1554.7,1139.1 L1556.0,1138.5 L1556.3,1139.2 L1557.3,1138.9 L1558.6,1140.0 L1559.9,1141.0 L1560.0,1139.7 L1561.2,1141.6 L1562.5,1142.6 L1563.8,1143.9 L1565.1,1145.8 L1566.0,1146.9 L1566.4,1147.8 L1567.7,1148.1 L1569.0,1150.4 L1570.3,1152.0 L1571.6,1152.4 L1572.0,1152.7 L1572.9,1153.1 L1574.2,1153.4 L1575.5,1154.8 L1576.7,1155.1 L1576.8,1155.3 L1578.1,1156.4 L1579.4,1156.0 L1580.7,1156.2 L1582.0,1156.8 L1583.3,1155.9 L1584.6,1156.1 L1585.0,1156.4 L1585.9,1156.3 L1587.2,1156.8 L1588.5,1156.4 L1589.8,1157.2 L1591.1,1157.1 L1592.4,1156.8 L1593.7,1156.4 L1595.0,1156.7 L1596.3,1156.8 L1597.6,1156.1 L1598.9,1156.6 L1600.2,1156.8 L1601.5,1156.6 L1602.8,1157.1 L1604.1,1157.0 L1605.4,1156.2 L1606.7,1156.5 L1608.0,1156.2 L1609.3,1156.7 L1610.0,1156.2 L1610.6,1156.8 L1611.9,1156.6 L1613.2,1156.8 L1614.5,1156.3 L1615.8,1155.8 L1617.1,1156.9 L1618.4,1156.1 L1619.7,1156.5 L1621.0,1156.0 L1622.3,1156.0 L1623.6,1156.3 L1624.9,1155.5 L1626.2,1155.8 L1627.5,1154.5 L1628.8,1155.2 L1630.1,1154.6 L1631.4,1154.5 L1632.7,1154.3 L1634.0,1154.3 L1635.0,1154.6 L1635.3,1153.3 L1636.6,1153.8 L1637.9,1153.2 L1639.2,1153.7 L1640.5,1152.8 L1641.8,1152.8 L1643.1,1152.2 L1644.4,1152.3 L1645.7,1152.0 L1647.0,1151.1 L1648.0,1151.0 L1648.3,1150.4 L1649.6,1150.5 L1650.9,1150.1 L1652.2,1149.1 L1653.5,1149.3 L1654.0,1148.0 L1654.8,1148.0 L1656.1,1148.0 L1657.4,1148.3 L1657.7,1148.5 L1658.7,1148.6 L1660.0,1148.9 L1661.3,1149.7 L1662.0,1149.5 L1662.6,1149.5 L1663.9,1150.1 L1665.2,1152.1 L1666.5,1151.1 L1667.8,1152.4 L1668.0,1153.1 L1669.1,1152.9 L1670.4,1152.7 L1671.7,1153.2 L1673.0,1153.7 L1674.3,1153.9 L1675.0,1153.2 L1675.6,1153.8 L1676.9,1153.6 L1678.2,1154.0 L1679.5,1154.1 L1680.8,1153.4 L1682.1,1153.0 L1683.4,1153.7 L1684.7,1154.3 L1686.0,1153.9 L1687.3,1153.7 L1688.6,1154.5 L1689.9,1153.2 L1690.0,1153.9"/>
<path stroke="#f0f" stroke-width="3.6" d="M106.5,618.9 L107.8,618.9 L109.1,618.4 L110.4,618.5 L111.7,619.0 L113.0,619.0 L114.3,618.6 L115.6,619.0 L116.9,619.0 L118.2,618.2 L119.5,618.7 L120.8,618.9 L122.1,618.6 L123.4,618.1 L124.7,618.7 L126.0,619.0 L127.3,619.3 L128.6,618.1 L129.9,619.6 L131.2,618.4 L132.5,619.1 L133.8,619.2 L135.1,619.1 L136.4,618.8 L137.7,618.4 L139.0,619.0 L140.3,618.6 L141.6,618.0 L142.9,619.7 L144.2,619.0 L145.5,619.4 L146.8,618.5 L148.1,619.2 L149.4,619.3 L150.7,619.3 L152.0,618.8 L153.3,618.4 L154.6,618.7 L155.9,618.1 L157.2,618.2 L158.5,618.8 L159.8,618.4 L161.1,618.7 L162.4,618.7 L163.7,619.4 L165.0,619.2 L166.3,618.7 L167.6,619.1 L168.9,618.5 L170.2,618.6 L171.5,619.0 L172.8,618.3 L174.1,618.6 L175.4,618.3 L176.7,618.7 L178.0,619.2 L179.3,618.5 L180.6,618.8 L181.9,618.4 L183.2,618.3 L184.5,618.3 L185.8,619.1 L187.1,619.4 L188.4,618.8 L189.7,618.4 L191.0,618.9 L192.3,618.5 L193.6,618.9 L194.9,618.7 L196.2,618.7 L197.5,618.8 L198.8,618.4 L200.1,618.5 L201.4,618.0 L202.7,618.4 L204.0,618.1 L205.3,618.5 L206.6,618.3 L207.9,618.6 L209.2,618.7 L210.5,618.1 L211.8,618.3 L213.1,618.2 L214.4,618.7 L215.0,619.0 L215.7,618.7 L217.0,618.2 L218.3,618.5 L219.6,617.1 L220.0,618.0 L220.9,616.7 L222.2,614.5 L223.5,614.8 L224.0,614.0 L224.8,612.6 L226.1,612.2 L226.9,611.9 L227.4,612.1 L228.7,611.9 L230.0,612.8 L230.0,613.1 L231.3,614.5 L232.6,616.9 L233.9,618.0 L234.0,618.8 L235.2,618.2 L236.5,618.9 L237.8,618.4 L238.0,618.6 L239.1,619.4 L240.4,618.7 L241.7,619.2 L243.0,619.0 L244.3,618.6 L245.6,618.9 L246.9,618.8 L248.2,618.8 L249.5,619.2 L250.8,619.1 L252.1,618.7 L253.4,618.6 L254.7,619.0 L256.0,618.8 L257.3,619.2 L258.6,619.7 L259.9,619.0 L261.2,618.7 L262.5,618.7 L263.8,618.4 L265.1,618.4 L266.4,618.3 L267.7,618.4 L269.0,618.4 L270.0,618.7 L270.3,618.4 L271.6,618.3 L272.9,617.9 L274.2,618.7 L275.5,618.1 L276.8,618.3 L278.1,617.7 L279.4,617.6 L280.0,616.9 L280.7,617.0 L282.0,617.2 L283.3,615.3 L284.6,615.2 L285.9,614.4 L287.0,613.1 L287.2,613.1 L288.5,611.8 L289.8,609.3 L291.1,607.2 L292.0,604.7 L292.4,603.7 L293.7,598.9 L295.0,592.0 L295.0,592.0 L296.3,579.3 L297.0,569.5 L297.6,561.2 L298.5,545.4 L298.9,538.2 L300.2,514.0 L300.9,509.0 L301.5,515.1 L302.5,535.1 L302.8,539.4 L304.0,560.2 L304.1,562.6 L305.4,582.0 L306.0,590.3 L306.7,596.7 L308.0,605.0 L308.0,605.5 L309.3,609.0 L310.6,612.4 L311.0,613.5 L311.9,614.2 L313.2,615.6 L314.5,616.8 L315.0,616.9 L315.8,617.9 L317.1,617.5 L318.4,618.5 L319.7,618.0 L320.0,618.7 L321.0,618.6 L322.3,618.0 L323.6,619.0 L324.9,618.8 L326.2,619.2 L327.5,619.9 L328.8,619.1 L330.0,619.2 L330.1,620.0 L331.4,619.5 L332.7,620.0 L334.0,619.6 L335.3,619.2 L336.6,619.5 L337.9,619.9 L339.2,619.8 L340.5,619.5 L341.8,619.5 L343.1,619.5 L344.4,619.3 L345.7,620.1 L347.0,619.5 L348.3,619.1 L349.6,619.3 L350.9,619.7 L352.2,619.7 L353.5,619.5 L354.8,619.3 L356.1,619.5 L357.4,618.9 L358.7,619.1 L360.0,619.8 L361.3,619.3 L362.6,619.6 L363.9,619.9 L365.2,619.7 L366.5,619.5 L367.8,620.2 L369.1,619.7 L370.4,619.4 L371.7,619.7 L373.0,619.6 L373.0,619.2 L374.3,619.5 L375.6,619.4 L376.9,618.7 L378.2,619.1 L379.5,618.9 L380.8,618.7 L382.1,618.1 L383.4,618.4 L384.7,618.3 L386.0,618.1 L387.3,617.5 L388.6,617.9 L389.9,617.1 L390.0,617.4 L391.2,617.8 L392.5,617.0 L393.8,616.9 L395.1,617.3 L396.4,616.7 L397.7,616.6 L399.0,616.6 L400.3,616.7 L401.6,615.5 L402.9,615.8 L404.2,615.6 L405.5,615.4 L406.8,615.2 L408.1,615.0 L409.4,615.2 L410.0,614.7 L410.7,614.9 L412.0,614.7 L413.3,614.1 L414.6,614.0 L415.9,614.2 L417.2,613.4 L418.5,612.7 L419.8,612.4 L421.1,611.7 L422.4,611.6 L423.7,611.3 L425.0,610.2 L425.0,610.4 L426.3,610.3 L427.6,609.2 L428.9,608.8 L430.2,607.6 L431.5,606.7 L432.0,606.3 L432.8,606.3 L434.1,603.6 L435.4,601.2 L436.7,598.5 L437.0,597.9 L438.0,596.0 L439.3,592.7 L440.6,589.4 L441.9,584.0 L442.0,584.0 L443.2,576.7 L444.5,566.5 L445.0,561.5 L445.8,554.4 L447.0,540.0 L447.1,538.5 L448.4,513.2 L449.0,500.3 L449.7,480.7 L451.0,439.9 L451.0,439.9 L452.3,399.9 L453.0,380.1 L453.6,361.9 L454.9,324.2 L455.8,313.6 L456.2,317.9 L457.5,359.9 L457.5,359.8 L458.8,403.2 L459.0,410.0 L460.1,444.5 L461.0,469.7 L461.4,481.4 L462.7,513.8 L463.0,519.9 L464.0,540.5 L465.0,554.5 L465.3,557.4 L466.3,563.6 L466.6,563.2 L467.9,551.1 L468.0,549.8 L469.2,527.0 L469.5,519.3 L470.5,492.8 L471.0,479.5 L471.8,461.2 L473.1,436.0 L473.7,432.0 L474.4,441.2 L475.5,469.7 L475.7,474.2 L477.0,500.2 L477.0,500.2 L478.3,512.8 L478.5,514.3 L479.6,519.8 L480.3,525.1 L480.9,539.4 L481.5,560.4 L482.2,579.6 L483.0,595.7 L483.5,600.5 L484.8,607.7 L485.0,608.1 L486.1,611.3 L487.4,613.3 L488.0,614.4 L488.7,615.1 L490.0,615.8 L491.3,617.2 L492.6,617.4 L493.0,617.5 L493.9,617.5 L495.2,618.1 L496.5,618.8 L497.8,618.4 L499.1,619.2 L500.0,619.1 L500.4,619.1 L501.7,618.3 L503.0,619.0 L504.3,619.3 L505.6,618.8 L506.9,619.1 L508.2,618.4 L509.5,619.4 L510.8,618.9 L512.1,619.5 L513.4,618.6 L514.7,619.4 L516.0,619.1 L517.3,619.5 L518.6,618.9 L519.9,619.0 L521.2,620.0 L522.5,619.0 L523.8,619.0 L525.1,619.2 L526.4,618.9 L527.7,619.7 L529.0,619.8 L530.3,619.1 L531.6,618.7 L532.9,619.7 L534.2,619.7 L535.5,619.6 L536.8,619.7 L538.1,619.0 L539.4,619.2 L540.0,618.9 L540.7,618.8 L542.0,619.5 L543.3,618.9 L544.6,619.7 L545.9,618.8 L547.2,618.3 L548.5,618.6 L549.8,618.6 L550.0,618.2 L551.1,617.4 L552.4,617.5 L553.7,617.3 L555.0,616.1 L556.3,615.2 L557.0,615.3 L557.6,614.5 L558.9,612.4 L560.2,610.0 L561.0,607.8 L561.5,605.6 L562.8,596.0 L563.0,595.4 L564.1,590.7 L565.0,588.2 L565.4,589.0 L566.7,591.6 L567.0,592.1 L568.0,596.9 L569.3,602.5 L569.3,602.4 L570.6,604.8 L571.9,605.5 L572.0,605.3 L573.2,608.8 L574.5,611.0 L575.0,611.9 L575.8,612.5 L577.1,613.8 L578.3,614.3 L578.4,614.6 L579.7,614.0 L581.0,611.3 L581.0,612.2 L582.3,605.9 L583.5,599.7 L583.6,599.9 L584.9,594.9 L586.2,592.0 L586.2,593.1 L587.5,593.9 L588.8,596.8 L589.0,597.1 L590.1,598.4 L591.4,598.8 L592.3,600.3 L592.7,600.7 L594.0,606.7 L595.0,609.8 L595.3,610.6 L596.6,614.2 L597.9,615.1 L598.0,615.0 L599.2,615.5 L600.5,614.4 L601.8,613.3 L602.0,613.7 L603.1,612.5 L604.4,612.3 L605.7,611.3 L607.0,609.5 L607.6,608.8 L608.3,608.2 L609.6,606.3 L610.9,603.7 L612.2,601.7 L613.0,599.3 L613.5,598.9 L614.8,596.5 L616.1,593.7 L617.4,590.2 L617.8,588.3 L618.7,585.1 L620.0,576.7 L621.3,563.2 L621.7,557.6 L622.6,525.4 L623.5,481.5 L623.9,464.2 L625.0,420.0 L625.2,412.7 L626.5,362.9 L627.0,356.4 L627.8,394.2 L628.2,419.7 L629.1,469.3 L629.3,473.9 L630.4,482.2 L631.0,485.0 L631.7,489.4 L633.0,497.7 L633.2,499.5 L634.3,521.1 L635.2,545.1 L635.6,557.0 L636.9,595.0 L637.0,596.3 L638.2,603.4 L639.0,606.6 L639.5,606.9 L640.8,609.4 L642.1,610.5 L643.4,610.9 L643.4,611.7 L644.7,610.7 L646.0,609.8 L647.3,609.2 L648.0,608.9 L648.6,609.2 L649.9,606.8 L651.2,604.8 L652.0,602.7 L652.5,602.2 L653.8,599.8 L654.9,596.6 L655.1,594.7 L656.4,577.4 L657.7,549.6 L657.9,544.7 L659.0,511.9 L660.0,480.9 L660.3,472.4 L661.6,440.6 L662.3,433.7 L662.9,440.7 L664.2,476.4 L664.3,479.5 L665.5,503.6 L666.3,514.9 L666.8,518.6 L668.0,523.8 L668.1,524.7 L669.4,528.5 L670.2,532.5 L670.7,542.1 L672.0,583.5 L672.0,583.9 L673.3,603.6 L674.0,609.0 L674.6,610.8 L675.9,613.8 L677.0,614.7 L677.2,615.0 L678.5,616.4 L679.8,617.3 L681.1,618.3 L682.4,618.7 L683.7,619.9 L684.0,619.7 L685.0,619.5 L686.3,619.5 L687.6,620.3 L688.9,619.8 L690.2,619.7 L691.5,619.9 L692.8,620.0 L694.1,620.4 L695.4,619.9 L696.7,620.6 L698.0,619.7 L699.3,620.2 L700.0,619.7 L700.6,620.6 L701.9,619.9 L703.2,620.0 L704.5,620.3 L705.8,620.4 L707.1,619.6 L708.4,619.9 L709.7,619.6 L711.0,620.0 L712.3,620.0 L713.6,619.9 L714.9,619.8 L716.2,619.9 L717.5,619.8 L718.8,620.2 L720.1,620.5 L721.4,619.4 L722.7,620.0 L724.0,619.9 L725.3,620.2 L726.6,619.7 L727.9,620.0 L729.2,619.7 L730.0,620.2 L730.5,620.0 L731.8,619.8 L733.1,619.7 L734.4,619.1 L735.7,618.2 L737.0,618.2 L737.0,618.1 L738.3,615.8 L739.6,611.9 L740.0,610.4 L740.9,603.8 L741.8,597.8 L742.2,596.6 L743.5,591.8 L743.7,591.0 L744.8,595.8 L745.5,599.8 L746.1,601.7 L747.4,604.4 L748.0,606.0 L748.7,606.6 L750.0,608.0 L750.6,609.3 L751.3,609.5 L752.6,610.9 L753.9,612.2 L755.0,613.3 L755.2,613.1 L756.5,614.4 L757.8,615.3 L759.1,617.3 L760.0,617.7 L760.4,617.5 L761.7,619.0 L763.0,620.4 L764.3,621.3 L765.6,622.3 L766.0,622.2 L766.9,621.7 L768.2,622.0 L769.5,621.7 L770.8,622.3 L772.1,622.4 L773.4,623.2 L774.7,622.4 L775.0,621.7 L776.0,622.2 L777.3,622.5 L778.6,622.1 L779.9,622.2 L781.2,622.4 L782.5,622.6 L783.8,622.5 L785.1,622.3 L786.4,622.8 L787.7,622.4 L789.0,622.4 L790.3,622.2 L791.6,622.4 L792.9,622.8 L794.2,622.1 L795.5,622.6 L796.8,622.9 L798.1,622.6 L799.4,622.8 L800.7,622.4 L802.0,623.2 L803.3,623.1 L804.6,622.8 L805.9,622.2 L807.2,622.4 L808.5,623.1 L809.8,623.4 L811.1,622.9 L812.4,623.2 L813.7,622.6 L815.0,622.8 L816.3,622.9 L817.6,623.0 L818.9,622.4 L820.2,623.2 L821.5,623.3 L822.8,622.5 L824.1,622.5 L825.4,623.0 L826.7,622.7 L828.0,622.2 L829.3,623.2 L830.6,623.0 L831.9,622.8 L833.2,623.6 L834.5,623.0 L835.8,622.7 L837.1,623.0 L838.4,622.6 L839.7,622.7 L841.0,623.1 L842.3,622.8 L843.6,622.8 L844.9,623.5 L846.2,623.3 L847.5,623.2 L848.8,623.2 L850.1,623.1 L851.4,623.5 L852.7,623.0 L854.0,623.6 L855.3,622.7 L856.6,622.9 L857.9,622.6 L859.2,622.9 L860.5,623.2 L861.8,623.5 L863.1,622.8 L864.4,623.0 L865.0,622.9 L865.7,622.7 L867.0,622.4 L868.3,622.6 L869.6,621.6 L870.0,622.0 L870.9,621.2 L872.2,619.0 L873.0,617.7 L873.5,616.9 L874.8,616.1 L876.0,613.6 L876.1,614.4 L877.4,612.6 L878.7,611.5 L878.7,611.2 L880.0,613.1 L881.3,615.3 L881.5,614.7 L882.6,616.2 L883.9,618.2 L885.0,619.1 L885.2,619.8 L886.5,620.2 L887.8,621.6 L889.1,621.8 L890.0,623.2 L890.4,622.3 L891.7,622.1 L893.0,622.9 L894.3,623.1 L895.6,623.9 L896.9,623.3 L898.2,623.4 L899.5,623.7 L900.0,624.0 L900.8,623.5 L902.1,623.9 L903.4,623.7 L904.7,623.5 L906.0,623.6 L907.3,623.6 L908.6,623.3 L909.9,624.0 L911.2,623.2 L912.5,624.1 L913.8,624.0 L915.1,623.7 L916.4,623.5 L917.7,623.7 L919.0,623.9 L920.3,624.0 L921.6,623.9 L922.9,624.1 L924.2,623.6 L925.5,623.9 L926.8,623.3 L928.1,624.1 L929.4,623.9 L930.7,623.7 L932.0,624.2 L933.3,624.1 L934.6,623.0 L935.9,623.9 L937.2,623.4 L938.5,624.3 L939.8,624.7 L941.1,623.8 L942.4,624.0 L943.7,623.9 L945.0,624.1 L946.3,624.2 L947.6,624.4 L948.9,623.6 L950.2,624.5 L951.5,623.7 L952.8,624.1 L954.1,624.3 L955.4,624.2 L956.7,623.7 L958.0,623.8 L959.3,623.8 L960.6,624.0 L961.9,624.4 L963.2,623.6 L964.5,624.1 L965.8,624.2 L967.1,624.2 L968.4,624.1 L969.7,624.5 L971.0,624.2 L972.0,624.3 L972.3,624.2 L973.6,624.5 L974.9,623.1 L976.2,623.9 L977.5,623.0 L978.8,622.5 L979.0,622.2 L980.1,620.7 L981.4,618.9 L982.0,617.8 L982.7,617.0 L984.0,614.1 L984.5,614.5 L985.3,613.4 L986.0,612.9 L986.6,613.1 L987.9,615.0 L988.5,615.6 L989.2,616.4 L990.5,617.5 L991.8,618.3 L992.0,618.0 L993.1,619.5 L994.4,620.7 L995.7,622.4 L997.0,623.9 L997.5,623.7 L998.3,623.6 L999.6,623.4 L1000.9,623.7 L1002.2,623.8 L1003.5,624.7 L1004.8,624.3 L1005.0,624.5 L1006.1,624.3 L1007.4,624.5 L1008.7,624.9 L1010.0,624.3 L1011.3,624.4 L1012.6,624.2 L1013.9,624.8 L1015.2,624.2 L1016.5,624.1 L1017.8,624.1 L1019.1,624.0 L1020.4,624.7 L1021.7,625.3 L1023.0,624.2 L1024.3,624.8 L1025.6,624.6 L1026.9,624.1 L1028.2,624.4 L1029.5,624.4 L1030.8,624.3 L1032.1,625.1 L1033.4,623.9 L1034.7,624.6 L1036.0,624.6 L1037.3,624.3 L1038.6,624.5 L1039.9,624.8 L1041.2,624.5 L1042.5,624.6 L1043.8,624.7 L1045.1,623.8 L1046.4,625.0 L1047.7,625.2 L1049.0,624.8 L1050.3,624.8 L1051.6,624.0 L1052.9,624.5 L1054.2,624.2 L1055.5,624.3 L1056.8,624.8 L1058.1,624.2 L1059.4,624.5 L1060.7,623.9 L1062.0,624.4 L1063.3,624.5 L1064.6,624.3 L1065.9,624.3 L1067.2,625.1 L1068.5,624.1 L1069.8,624.2 L1071.1,624.2 L1072.4,624.9 L1073.7,625.2 L1075.0,624.6 L1076.3,624.3 L1077.6,624.4 L1078.9,624.8 L1080.2,624.2 L1081.5,625.0 L1082.8,625.0 L1084.1,624.5 L1085.4,624.7 L1086.7,624.7 L1088.0,625.0 L1089.3,624.2 L1090.6,624.9 L1091.9,624.4 L1093.2,624.3 L1094.5,624.5 L1095.8,624.4 L1097.1,624.2 L1098.4,624.0 L1099.7,624.2 L1101.0,625.0 L1102.3,625.1 L1103.6,624.7 L1104.9,624.9 L1106.2,624.3 L1107.5,624.5 L1108.8,624.6 L1110.1,624.2 L1111.4,624.2 L1112.7,624.5 L1114.0,624.4 L1115.3,624.2 L1116.6,624.6 L1117.9,624.4 L1119.2,624.8 L1120.5,624.5 L1121.8,624.4 L1123.1,624.5 L1124.4,624.4 L1125.7,624.3 L1127.0,624.4 L1128.3,624.7 L1129.6,624.7 L1130.9,624.9 L1132.2,624.0 L1133.5,624.4 L1134.8,624.4 L1136.1,624.6 L1137.4,624.4 L1138.7,624.3 L1140.0,624.8 L1141.3,624.6 L1142.6,624.1 L1143.9,624.9 L1145.2,624.8 L1146.5,624.3 L1147.8,624.8 L1149.1,624.3 L1150.4,624.9 L1151.7,624.4 L1153.0,624.2 L1154.3,624.4 L1155.6,624.3 L1156.9,624.6 L1158.2,624.6 L1159.5,624.5 L1160.8,624.3 L1162.1,623.3 L1163.4,624.5 L1164.7,623.9 L1166.0,624.6 L1167.3,624.9 L1168.6,624.6 L1169.9,624.4 L1171.2,624.4 L1172.5,624.5 L1173.8,624.3 L1175.1,624.3 L1176.4,624.2 L1177.7,624.9 L1179.0,624.5 L1180.3,624.8 L1181.6,624.4 L1182.9,624.5 L1184.2,624.4 L1185.5,624.6 L1186.8,624.8 L1188.1,624.6 L1189.4,624.3 L1190.7,624.3 L1192.0,625.0 L1193.3,624.4 L1194.6,624.4 L1195.9,625.0 L1197.2,624.8 L1198.5,624.7 L1199.8,624.4 L1200.0,625.3 L1201.1,624.6 L1202.4,624.7 L1203.7,624.4 L1205.0,624.0 L1206.3,624.1 L1207.6,624.6 L1208.9,624.6 L1210.2,624.4 L1211.5,624.1 L1212.8,624.0 L1214.1,624.3 L1215.4,623.9 L1216.7,624.7 L1218.0,624.7 L1219.3,625.2 L1220.6,624.6 L1221.9,624.1 L1223.2,624.0 L1224.5,623.1 L1225.8,624.0 L1227.1,624.1 L1228.4,624.5 L1229.7,624.3 L1231.0,624.3 L1232.3,624.2 L1233.6,624.3 L1234.9,624.5 L1236.2,623.7 L1237.5,623.8 L1238.8,623.5 L1240.1,624.4 L1241.4,624.3 L1242.7,624.1 L1244.0,623.4 L1245.3,623.8 L1246.6,623.7 L1247.9,623.7 L1249.2,623.6 L1250.5,623.8 L1251.8,623.5 L1253.1,623.8 L1254.4,623.6 L1255.0,623.4 L1255.7,623.4 L1257.0,623.3 L1258.3,623.7 L1259.6,623.3 L1260.9,623.4 L1262.2,623.1 L1263.5,622.7 L1264.8,623.4 L1266.1,622.7 L1267.4,623.2 L1268.7,623.0 L1270.0,622.3 L1270.0,622.5 L1271.3,622.6 L1272.6,622.4 L1273.9,622.2 L1275.2,622.7 L1276.5,622.3 L1277.8,622.4 L1279.1,622.0 L1280.4,622.1 L1281.7,621.7 L1283.0,621.7 L1283.9,621.8 L1284.3,621.5 L1285.6,621.1 L1286.9,620.5 L1288.2,620.4 L1289.5,619.9 L1290.8,619.0 L1292.1,618.0 L1293.4,617.6 L1294.7,617.2 L1295.3,615.8 L1296.0,615.4 L1297.3,613.8 L1298.6,610.8 L1299.9,608.8 L1301.0,605.7 L1301.2,605.7 L1302.5,597.7 L1303.8,587.6 L1304.5,582.9 L1305.1,579.1 L1306.4,571.2 L1306.5,571.0 L1307.7,566.1 L1309.0,564.1 L1309.0,564.4 L1310.3,567.3 L1311.5,571.2 L1311.6,571.4 L1312.9,577.9 L1314.0,583.3 L1314.2,584.4 L1315.5,589.7 L1316.8,594.4 L1318.1,599.7 L1318.2,600.1 L1319.4,605.4 L1320.7,611.4 L1322.0,615.8 L1322.5,616.6 L1323.3,618.6 L1324.6,620.3 L1325.9,622.4 L1326.8,623.0 L1327.2,622.6 L1328.5,623.9 L1329.8,624.4 L1331.1,624.4 L1332.4,625.0 L1332.6,625.1 L1333.7,624.1 L1335.0,624.8 L1336.3,624.6 L1337.6,624.6 L1338.9,624.8 L1340.2,624.3 L1341.5,624.3 L1342.8,624.2 L1344.1,624.3 L1345.4,624.5 L1346.7,624.0 L1348.0,624.2 L1349.3,624.7 L1350.0,624.5 L1350.6,624.6 L1351.9,623.6 L1353.2,623.5 L1354.5,623.1 L1355.0,623.2 L1355.8,622.9 L1357.1,623.2 L1358.0,622.8 L1358.4,622.8 L1359.7,623.3 L1361.0,624.2 L1362.0,624.0 L1362.3,624.6 L1363.6,624.4 L1364.9,624.3 L1366.2,624.3 L1367.5,624.5 L1368.8,624.7 L1370.1,624.7 L1371.4,624.5 L1372.7,624.7 L1374.0,624.4 L1375.3,624.8 L1376.6,624.4 L1377.9,623.7 L1378.0,624.8 L1379.2,624.3 L1380.5,623.4 L1381.8,623.2 L1383.1,622.6 L1383.5,623.6 L1384.4,623.2 L1385.7,622.9 L1387.0,624.1 L1388.3,624.2 L1389.0,625.0 L1389.6,624.1 L1390.9,623.7 L1392.2,624.4 L1393.5,624.3 L1394.8,624.3 L1396.1,623.7 L1397.4,624.5 L1398.7,624.9 L1400.0,623.8 L1401.3,624.8 L1402.6,624.2 L1403.9,625.2 L1405.2,624.5 L1406.5,624.3 L1407.8,624.8 L1409.1,624.6 L1410.4,624.2 L1411.7,624.6 L1413.0,624.2 L1414.3,623.8 L1415.6,625.1 L1416.9,624.3 L1418.2,624.2 L1419.5,624.5 L1420.8,623.9 L1422.1,624.0 L1423.4,624.2 L1424.7,624.2 L1426.0,624.4 L1427.3,624.8 L1428.6,624.2 L1429.9,624.6 L1431.2,624.6 L1432.5,624.1 L1433.8,624.5 L1435.1,624.1 L1436.4,624.7 L1437.7,624.5 L1439.0,624.4 L1440.3,624.0 L1441.6,624.4 L1442.9,624.2 L1444.2,624.6 L1445.5,624.4 L1446.8,624.1 L1448.1,624.7 L1449.4,624.6 L1450.7,624.2 L1452.0,624.8 L1453.3,624.3 L1454.6,624.3 L1455.9,624.4 L1457.2,624.2 L1458.5,624.3 L1459.8,624.3 L1461.1,624.9 L1462.4,624.9 L1463.7,624.3 L1465.0,624.9 L1466.3,624.4 L1467.6,624.5 L1468.9,624.7 L1470.2,624.5 L1471.5,625.2 L1472.8,624.5 L1474.1,624.0 L1475.4,624.8 L1476.7,624.3 L1478.0,624.3 L1479.3,623.4 L1480.6,624.7 L1481.9,624.7 L1483.2,624.7 L1484.5,624.7 L1485.8,624.9 L1487.1,624.4 L1488.4,624.7 L1489.7,624.2 L1491.0,624.3 L1492.3,624.7 L1493.6,624.5 L1494.9,624.0 L1496.2,624.5 L1497.5,624.3 L1498.8,624.1 L1500.1,624.5 L1501.4,624.3 L1502.7,623.9 L1504.0,624.0 L1505.3,625.0 L1506.6,623.9 L1507.9,624.5 L1509.2,624.6 L1510.5,624.6 L1511.8,624.0 L1513.1,624.3 L1514.4,624.4 L1515.7,624.7 L1517.0,624.2 L1518.3,624.0 L1519.6,624.7 L1520.9,624.8 L1522.2,624.5 L1523.5,624.2 L1524.8,624.5 L1525.0,624.4 L1526.1,624.5 L1527.4,623.2 L1528.7,622.8 L1530.0,621.7 L1531.0,620.6 L1531.3,620.8 L1532.6,619.1 L1533.9,617.2 L1535.2,616.2 L1535.5,615.5 L1536.5,615.8 L1537.8,615.9 L1539.1,615.7 L1539.5,615.8 L1540.4,614.0 L1541.7,611.1 L1542.0,611.1 L1543.0,609.4 L1544.0,608.9 L1544.3,608.5 L1545.6,610.0 L1546.0,611.3 L1546.9,612.8 L1548.2,615.4 L1548.5,616.8 L1549.5,616.1 L1550.8,616.2 L1551.7,616.2 L1552.1,616.7 L1553.4,618.0 L1554.7,620.5 L1555.0,620.2 L1556.0,621.0 L1557.3,623.2 L1558.6,624.1 L1559.7,624.2 L1559.9,624.1 L1561.2,624.2 L1562.5,624.1 L1563.8,624.8 L1565.1,624.6 L1566.0,624.6 L1566.4,624.5 L1567.7,624.7 L1569.0,624.6 L1570.3,624.6 L1571.6,624.0 L1572.9,624.6 L1574.2,625.1 L1575.5,624.2 L1576.8,624.4 L1578.1,624.7 L1579.4,624.7 L1580.7,624.6 L1582.0,623.9 L1583.3,624.6 L1584.6,624.0 L1585.9,624.1 L1587.2,624.6 L1588.5,624.3 L1589.8,624.7 L1591.1,625.4 L1592.4,624.6 L1593.7,624.6 L1595.0,624.1 L1596.3,624.2 L1597.6,624.1 L1598.9,624.2 L1600.2,624.1 L1601.5,624.2 L1602.8,624.3 L1604.1,624.1 L1605.4,623.9 L1606.7,624.0 L1608.0,624.5 L1608.0,624.4 L1609.3,624.5 L1610.6,623.9 L1611.9,622.8 L1613.2,622.5 L1614.0,621.5 L1614.5,622.6 L1615.8,621.9 L1617.1,621.1 L1618.4,620.6 L1618.8,621.1 L1619.7,620.6 L1621.0,621.4 L1622.3,622.2 L1622.5,622.0 L1623.6,621.6 L1624.9,621.6 L1626.2,620.7 L1626.4,621.1 L1627.5,621.1 L1628.8,621.6 L1630.1,622.8 L1631.0,622.7 L1631.4,623.7 L1632.7,623.4 L1634.0,624.6 L1635.3,623.9 L1636.6,624.6 L1637.0,624.0 L1637.9,624.0 L1639.2,624.5 L1640.5,624.6 L1641.8,624.0 L1643.1,624.8 L1644.4,624.1 L1645.7,624.4 L1647.0,624.5 L1648.3,624.6 L1649.6,623.8 L1650.9,624.9 L1652.2,624.5 L1653.5,624.2 L1654.8,624.0 L1656.1,623.8 L1657.4,623.9 L1658.7,624.5 L1660.0,624.2 L1661.3,623.9 L1662.6,624.1 L1663.9,624.8 L1665.2,624.1 L1666.5,624.0 L1667.8,624.6 L1669.1,624.3 L1670.4,624.2 L1671.7,624.0 L1673.0,623.6 L1674.3,623.7 L1675.6,623.9 L1676.9,624.0 L1678.2,624.1 L1679.5,624.2 L1680.0,624.1 L1680.8,624.0 L1682.1,623.6 L1683.4,623.1 L1684.7,623.5 L1686.0,623.3 L1687.3,623.2 L1688.6,623.2 L1689.9,622.7 L1691.0,622.6"/>
<path stroke="#f00" stroke-width="3.6" d="M106.5,271.0 L107.8,271.1 L109.1,270.9 L110.4,270.7 L111.7,270.9 L113.0,270.7 L114.3,271.0 L115.6,271.4 L116.9,270.8 L118.2,270.8 L119.5,271.2 L120.8,271.1 L122.1,271.0 L123.4,270.7 L124.7,271.0 L126.0,271.2 L127.3,270.6 L128.6,270.9 L129.9,270.4 L131.2,270.6 L132.5,270.4 L133.8,270.9 L135.1,270.6 L136.4,271.1 L137.7,271.1 L139.0,270.9 L140.3,270.2 L141.6,270.8 L142.9,271.0 L144.2,271.0 L145.5,270.5 L146.8,270.8 L148.1,270.7 L149.4,270.7 L150.7,271.3 L152.0,270.7 L153.3,271.0 L154.6,271.3 L155.9,270.8 L157.2,271.0 L158.5,271.0 L159.8,271.0 L161.1,270.6 L162.4,271.0 L163.7,271.4 L165.0,270.5 L166.3,271.3 L167.6,271.0 L168.9,270.8 L170.2,271.6 L171.5,271.2 L172.8,270.6 L174.1,271.0 L175.4,271.2 L176.7,270.9 L178.0,271.2 L179.3,271.0 L180.6,271.2 L181.9,271.5 L183.2,270.8 L184.5,271.1 L185.8,270.9 L187.1,271.0 L188.4,270.6 L189.7,270.8 L191.0,270.9 L192.3,271.3 L193.6,271.4 L194.9,270.6 L196.2,270.7 L197.5,271.2 L198.8,270.4 L200.1,270.9 L201.4,271.0 L202.7,271.4 L204.0,271.2 L205.3,270.9 L206.6,270.9 L207.9,270.9 L209.2,271.5 L210.5,270.9 L211.8,270.9 L213.1,271.1 L214.4,271.0 L215.7,270.9 L217.0,270.6 L218.3,271.0 L219.6,270.9 L220.0,271.4 L220.9,271.2 L222.2,270.8 L223.5,270.7 L224.8,270.0 L225.0,270.3 L226.1,269.3 L227.4,268.5 L228.3,267.6 L228.7,268.2 L230.0,268.4 L231.3,269.4 L232.0,270.4 L232.6,270.4 L233.9,271.2 L235.2,272.2 L236.0,271.2 L236.5,271.3 L237.8,271.6 L239.1,271.7 L240.4,271.4 L241.7,271.4 L243.0,271.7 L244.3,271.7 L245.6,271.2 L246.9,271.5 L248.2,271.5 L249.5,271.1 L250.8,271.5 L252.1,271.2 L253.4,271.7 L254.7,271.5 L256.0,271.4 L257.3,271.2 L258.6,271.3 L259.9,270.7 L261.2,271.0 L262.5,271.5 L263.8,270.6 L265.1,271.6 L266.4,270.7 L267.7,271.5 L269.0,271.0 L270.3,271.5 L271.6,271.2 L272.9,270.7 L274.2,271.5 L275.5,271.6 L276.8,271.1 L278.1,271.0 L279.4,271.0 L280.0,270.7 L280.7,271.3 L282.0,270.7 L283.3,270.7 L284.6,270.3 L285.9,270.2 L287.2,269.7 L288.5,270.3 L289.8,269.5 L290.0,269.8 L291.1,269.2 L292.4,268.5 L293.7,267.9 L295.0,266.8 L296.0,266.0 L296.3,265.5 L297.6,261.9 L298.9,255.2 L299.0,254.7 L300.2,239.6 L300.5,234.8 L301.5,220.8 L302.3,215.4 L302.8,218.1 L304.0,231.5 L304.1,233.0 L305.4,249.4 L306.0,254.4 L306.7,259.1 L308.0,263.8 L308.5,265.0 L309.3,266.2 L310.6,268.5 L311.9,269.3 L312.0,269.5 L313.2,269.6 L314.5,270.1 L315.8,271.2 L317.1,270.8 L318.0,271.1 L318.4,271.0 L319.7,270.9 L321.0,270.8 L322.3,271.2 L323.6,270.9 L324.9,271.0 L326.2,271.0 L327.5,271.4 L328.8,271.2 L330.1,271.1 L331.4,270.8 L332.7,270.6 L334.0,271.3 L335.3,271.3 L336.6,271.0 L337.9,271.2 L339.2,271.3 L340.5,271.3 L341.8,271.3 L343.1,270.9 L344.4,271.5 L345.7,270.6 L347.0,271.3 L348.3,271.2 L349.6,271.3 L350.9,271.6 L352.2,271.5 L353.5,270.6 L354.8,270.5 L356.1,271.3 L357.4,270.7 L358.7,271.0 L360.0,271.3 L361.3,270.5 L362.6,270.3 L363.9,271.1 L365.2,271.0 L366.5,270.9 L367.8,271.0 L369.1,270.7 L370.4,270.5 L371.7,270.9 L373.0,270.7 L374.3,270.5 L375.6,271.2 L376.9,271.0 L378.2,271.1 L379.5,270.7 L380.8,270.8 L382.1,270.7 L383.4,270.7 L384.7,271.1 L386.0,270.7 L387.3,271.1 L388.6,271.1 L389.9,271.6 L391.2,270.6 L392.5,271.3 L393.8,271.0 L395.1,271.0 L396.4,270.5 L397.7,270.9 L399.0,271.2 L400.0,271.0 L400.3,271.0 L401.6,270.9 L402.9,271.4 L404.2,271.0 L405.5,270.2 L406.8,270.7 L408.1,270.3 L409.4,269.8 L410.7,270.6 L412.0,271.2 L413.3,270.7 L414.6,270.3 L415.9,270.3 L417.2,270.9 L418.5,270.5 L419.8,270.4 L421.1,270.3 L422.4,270.2 L423.7,270.4 L425.0,270.2 L425.0,270.1 L426.3,269.6 L427.6,269.9 L428.9,269.3 L430.2,269.7 L431.5,268.6 L432.8,268.6 L434.1,268.3 L435.0,267.6 L435.4,268.4 L436.7,267.6 L438.0,265.8 L439.3,264.7 L440.6,262.8 L441.0,261.2 L441.9,259.6 L443.2,254.5 L444.0,252.0 L444.5,250.5 L445.8,248.3 L447.0,246.6 L447.1,247.0 L448.4,245.6 L449.7,244.4 L450.0,244.5 L451.0,240.9 L452.3,235.0 L453.0,231.4 L453.6,229.8 L454.9,223.2 L456.2,220.0 L456.2,219.9 L457.5,223.8 L458.8,231.1 L459.0,231.9 L460.1,237.1 L461.4,243.3 L462.0,246.5 L462.7,249.4 L464.0,254.0 L464.0,253.8 L465.3,256.0 L466.5,257.5 L466.6,257.2 L467.9,255.2 L469.0,251.9 L469.2,250.9 L470.5,240.9 L471.0,235.3 L471.8,216.9 L472.5,199.9 L473.1,189.0 L474.4,169.5 L475.0,166.0 L475.7,172.6 L477.0,194.7 L477.0,195.3 L478.3,209.0 L479.0,214.7 L479.6,217.5 L480.9,221.4 L481.0,221.8 L482.2,235.2 L483.0,245.0 L483.5,249.7 L484.8,261.1 L485.0,262.6 L486.1,266.0 L487.0,267.9 L487.4,268.2 L488.7,270.0 L490.0,270.1 L490.0,270.1 L491.3,271.1 L492.6,270.6 L493.9,271.3 L495.0,271.5 L495.2,271.1 L496.5,271.2 L497.8,271.6 L499.1,270.9 L500.4,270.8 L501.7,270.6 L503.0,271.0 L504.3,271.5 L505.6,271.3 L506.9,270.7 L508.2,270.7 L509.5,270.8 L510.8,271.1 L512.1,270.9 L513.4,271.1 L514.7,271.1 L516.0,270.9 L517.3,271.0 L518.6,271.1 L519.9,271.0 L521.2,271.2 L522.5,271.6 L523.8,271.2 L525.1,271.0 L526.4,270.5 L527.7,271.1 L529.0,270.4 L530.3,270.5 L531.6,271.3 L532.9,271.2 L534.2,271.0 L535.5,270.5 L536.8,270.9 L538.1,270.8 L539.4,271.2 L540.0,271.7 L540.7,271.1 L542.0,270.7 L543.3,270.6 L544.6,270.9 L545.9,270.8 L547.2,270.4 L548.5,270.7 L549.8,270.2 L551.1,270.8 L552.4,270.6 L553.7,270.5 L555.0,269.8 L555.0,270.2 L556.3,269.7 L557.6,269.3 L558.9,268.8 L560.2,267.9 L561.5,266.9 L562.0,267.3 L562.8,265.6 L564.1,261.4 L565.0,258.3 L565.4,255.7 L566.7,248.8 L567.4,247.5 L568.0,248.5 L569.3,253.8 L570.0,256.3 L570.6,256.8 L571.9,257.4 L572.9,258.6 L573.2,259.7 L574.5,263.5 L575.5,265.4 L575.8,266.9 L577.1,268.6 L578.0,269.4 L578.4,268.9 L579.7,268.7 L581.0,268.1 L582.0,268.8 L582.3,267.7 L583.6,265.5 L584.9,261.0 L585.0,261.1 L586.2,256.7 L587.3,255.1 L587.5,255.6 L588.8,257.8 L590.0,261.3 L590.1,261.2 L591.4,261.7 L592.3,262.5 L592.7,263.0 L594.0,265.4 L595.0,266.8 L595.3,267.1 L596.6,268.6 L597.9,269.2 L598.0,269.1 L599.2,269.7 L600.5,270.1 L601.0,269.3 L601.8,269.7 L603.1,269.2 L604.4,268.7 L605.7,268.9 L606.0,268.3 L607.0,268.8 L608.3,267.7 L609.6,267.8 L610.0,267.4 L610.9,266.8 L612.2,266.2 L613.5,264.7 L614.8,263.4 L615.0,263.0 L616.1,260.8 L617.4,258.7 L617.6,258.4 L618.7,257.3 L620.0,255.2 L620.7,254.3 L621.3,252.2 L622.4,248.2 L622.6,246.5 L623.5,237.9 L623.9,231.3 L624.1,227.9 L624.8,216.5 L625.2,199.7 L625.2,199.8 L625.8,164.6 L626.5,125.1 L626.5,124.7 L627.8,80.7 L627.9,80.8 L629.1,107.4 L629.7,126.5 L630.4,148.1 L631.3,167.6 L631.7,168.5 L633.0,171.3 L633.6,172.2 L634.3,193.6 L634.5,200.0 L635.1,213.8 L635.6,221.0 L636.2,230.2 L636.7,240.9 L636.9,246.4 L637.2,253.3 L638.2,257.5 L638.6,259.2 L639.5,262.0 L640.8,264.6 L641.6,265.8 L642.1,266.6 L643.4,268.3 L644.7,267.6 L645.0,268.7 L646.0,268.1 L647.3,268.4 L648.6,267.3 L649.0,267.4 L649.9,266.6 L651.2,265.7 L652.5,265.1 L653.0,264.3 L653.8,262.7 L655.1,259.9 L656.4,256.0 L657.6,252.3 L657.7,252.0 L659.0,244.4 L660.3,232.8 L660.4,231.4 L661.6,211.4 L661.8,209.0 L662.9,200.0 L663.8,196.9 L664.2,198.1 L665.5,217.2 L665.7,220.6 L666.5,233.8 L666.8,235.2 L667.5,237.0 L668.1,236.6 L669.4,236.4 L670.7,235.7 L670.9,235.8 L671.6,244.6 L672.0,249.0 L672.6,254.7 L673.3,259.9 L673.7,261.8 L674.6,265.2 L675.9,267.9 L676.0,267.6 L677.2,269.1 L678.3,269.2 L678.5,269.5 L679.8,270.0 L681.1,269.8 L682.4,270.8 L683.7,271.0 L685.0,270.9 L685.0,270.9 L686.3,270.9 L687.6,270.7 L688.9,270.9 L690.2,270.8 L691.5,271.0 L692.8,270.6 L694.1,271.1 L695.4,271.0 L696.7,271.0 L698.0,270.9 L699.3,271.2 L700.6,270.5 L701.9,271.1 L703.2,271.1 L704.5,271.1 L705.8,271.1 L707.1,270.8 L708.4,270.9 L709.7,271.2 L711.0,271.1 L712.3,271.1 L713.6,270.5 L714.9,271.2 L716.2,271.4 L717.5,271.3 L718.8,271.1 L720.1,270.5 L721.4,271.3 L722.7,271.0 L724.0,270.2 L725.3,271.1 L726.6,270.5 L727.9,270.6 L729.2,270.8 L730.5,271.4 L731.8,270.9 L733.1,271.1 L734.4,271.6 L735.0,271.5 L735.7,270.9 L737.0,270.8 L738.3,270.1 L739.6,269.9 L740.9,269.7 L741.0,269.6 L742.2,267.8 L743.5,264.7 L744.0,262.8 L744.8,259.7 L746.1,255.1 L746.3,254.9 L747.4,258.3 L748.5,262.1 L748.7,262.2 L750.0,263.5 L751.0,263.7 L751.3,263.6 L752.6,264.9 L753.9,265.1 L755.0,265.6 L755.2,265.0 L756.5,266.1 L757.8,266.7 L759.1,267.3 L760.0,267.3 L760.4,268.1 L761.7,269.1 L763.0,269.5 L764.3,269.6 L765.0,270.0 L765.6,270.4 L766.9,269.5 L768.2,270.6 L769.5,271.0 L770.8,271.2 L772.0,271.5 L772.1,271.4 L773.4,271.1 L774.7,271.1 L776.0,271.3 L777.3,270.9 L778.6,271.1 L779.9,271.4 L781.2,271.7 L782.5,271.1 L783.8,271.1 L785.1,271.2 L786.4,271.6 L787.7,271.2 L789.0,271.7 L790.3,270.9 L791.6,271.2 L792.9,271.2 L794.2,271.5 L795.5,271.6 L796.8,270.8 L798.1,271.0 L799.4,271.4 L800.7,271.1 L802.0,270.8 L803.3,271.7 L804.6,271.5 L805.9,271.5 L807.2,271.2 L808.5,271.7 L809.8,271.3 L811.1,271.7 L812.4,271.1 L813.7,271.1 L815.0,271.5 L816.3,271.2 L817.6,271.6 L818.9,271.5 L820.2,271.1 L821.5,271.5 L822.8,271.3 L824.1,271.7 L825.4,271.2 L826.7,271.3 L828.0,271.8 L829.3,272.2 L830.6,272.1 L831.9,271.5 L833.2,271.5 L834.5,272.0 L835.8,271.4 L837.1,271.2 L838.4,271.5 L839.7,271.6 L841.0,271.2 L842.3,271.0 L843.6,271.0 L844.9,271.7 L846.2,271.2 L847.5,271.4 L848.8,271.6 L850.1,271.7 L851.4,271.4 L852.7,271.7 L854.0,271.2 L855.3,271.4 L856.6,271.2 L857.9,271.9 L859.2,271.5 L860.5,271.3 L861.8,271.4 L863.1,271.4 L864.4,271.7 L865.0,271.0 L865.7,271.2 L867.0,271.3 L868.3,272.2 L869.6,271.5 L870.9,271.0 L872.2,271.1 L873.5,271.3 L874.0,270.4 L874.8,270.1 L876.1,269.6 L877.4,268.1 L878.0,267.7 L878.7,266.7 L880.0,266.6 L880.0,266.5 L881.3,266.8 L882.6,267.9 L883.0,267.4 L883.9,268.7 L885.2,269.2 L886.5,270.1 L887.8,270.7 L888.0,270.4 L889.1,270.2 L890.4,271.1 L891.7,271.0 L893.0,271.3 L894.3,271.3 L895.0,271.4 L895.6,270.8 L896.9,271.9 L898.2,271.6 L899.5,271.9 L900.8,272.1 L902.1,271.5 L903.4,270.9 L904.7,271.2 L906.0,271.1 L907.3,271.3 L908.6,271.5 L909.9,270.9 L911.2,271.6 L912.5,271.0 L913.8,271.6 L915.1,271.5 L916.4,271.4 L917.7,271.5 L919.0,271.3 L920.3,271.3 L921.6,271.0 L922.9,271.5 L924.2,272.1 L925.5,272.1 L926.8,271.9 L928.1,271.7 L929.4,271.3 L930.7,272.0 L932.0,271.5 L933.3,271.5 L934.6,271.4 L935.9,271.5 L937.2,271.4 L938.5,271.5 L939.8,271.2 L941.1,271.4 L942.4,272.2 L943.7,271.5 L945.0,271.4 L946.3,271.7 L947.6,271.7 L948.9,271.1 L950.2,271.4 L951.5,271.8 L952.8,271.6 L954.1,271.5 L955.4,272.0 L956.7,271.3 L958.0,271.5 L959.3,271.3 L960.6,272.0 L961.9,270.9 L963.2,271.3 L964.5,271.3 L965.8,271.7 L967.1,271.7 L968.4,271.9 L969.7,271.0 L971.0,271.7 L972.3,271.4 L973.6,271.3 L974.9,271.7 L975.0,271.2 L976.2,270.8 L977.5,271.2 L978.8,270.6 L980.1,270.5 L981.4,270.4 L982.0,270.1 L982.7,269.9 L984.0,267.4 L985.0,265.5 L985.3,265.4 L986.6,263.8 L987.6,263.2 L987.9,263.9 L989.2,265.8 L990.0,266.4 L990.5,267.4 L991.8,267.4 L993.1,267.7 L994.4,267.9 L995.0,268.2 L995.7,268.5 L997.0,270.2 L998.0,270.6 L998.3,270.7 L999.6,271.1 L1000.9,270.8 L1002.2,271.4 L1003.0,271.4 L1003.5,271.6 L1004.8,271.1 L1006.1,272.0 L1007.4,271.5 L1008.7,271.1 L1010.0,271.0 L1011.3,271.4 L1012.6,271.5 L1013.9,271.3 L1015.2,271.5 L1016.5,271.3 L1017.8,271.7 L1019.1,271.3 L1020.4,271.5 L1021.7,271.8 L1023.0,272.3 L1024.3,271.2 L1025.6,271.4 L1026.9,271.2 L1028.2,271.8 L1029.5,271.1 L1030.8,271.3 L1032.1,271.5 L1033.4,271.2 L1034.7,271.2 L1036.0,271.3 L1037.3,270.8 L1038.6,271.0 L1039.9,271.4 L1041.2,271.5 L1042.5,271.4 L1043.8,270.9 L1045.1,271.3 L1046.4,271.8 L1047.7,271.7 L1049.0,271.5 L1050.3,271.2 L1051.6,271.7 L1052.9,271.3 L1054.2,271.1 L1055.5,271.2 L1056.8,272.0 L1058.1,271.6 L1059.4,271.9 L1060.7,271.3 L1062.0,271.8 L1063.3,271.3 L1064.6,271.4 L1065.9,272.3 L1067.2,271.7 L1068.5,271.3 L1069.8,271.5 L1071.1,271.6 L1072.4,271.9 L1073.7,271.3 L1075.0,270.9 L1076.3,271.4 L1077.6,271.5 L1078.9,271.5 L1080.2,271.9 L1081.5,271.6 L1082.8,271.7 L1084.1,271.1 L1085.4,271.8 L1086.7,272.2 L1088.0,271.7 L1089.3,271.6 L1090.6,271.5 L1091.9,272.1 L1093.2,271.2 L1094.5,271.4 L1095.8,271.6 L1097.1,271.7 L1098.4,271.3 L1099.7,271.6 L1101.0,271.4 L1102.3,271.5 L1103.6,271.4 L1104.9,271.1 L1106.2,271.5 L1107.5,271.8 L1108.8,271.2 L1110.1,271.4 L1111.4,271.7 L1112.7,271.1 L1114.0,271.5 L1115.3,271.1 L1116.6,271.8 L1117.9,272.2 L1119.2,272.1 L1120.5,271.4 L1121.8,271.7 L1123.1,271.5 L1124.4,271.5 L1125.7,271.9 L1127.0,271.0 L1128.3,271.8 L1129.6,271.4 L1130.9,271.9 L1132.2,271.5 L1133.5,271.2 L1134.8,271.5 L1136.1,271.7 L1137.4,271.5 L1138.7,271.6 L1140.0,271.3 L1141.3,270.8 L1142.6,271.7 L1143.9,271.7 L1145.2,271.5 L1146.5,271.5 L1147.8,271.8 L1149.1,271.3 L1150.4,271.2 L1151.7,271.4 L1153.0,271.8 L1154.3,271.0 L1155.6,271.8 L1156.9,271.2 L1158.2,271.1 L1159.5,271.8 L1160.8,271.4 L1162.1,271.0 L1163.4,271.3 L1164.7,271.7 L1166.0,271.8 L1167.3,271.3 L1168.6,271.5 L1169.9,271.6 L1171.2,271.2 L1172.5,271.5 L1173.8,271.4 L1175.1,271.2 L1176.4,271.2 L1177.7,271.4 L1179.0,271.4 L1180.3,271.2 L1181.6,271.2 L1182.9,271.7 L1184.2,271.4 L1185.5,271.6 L1186.8,271.7 L1188.1,271.5 L1189.4,272.1 L1190.7,271.1 L1192.0,271.6 L1193.3,271.2 L1194.6,271.9 L1195.9,271.9 L1197.2,270.7 L1198.5,271.0 L1199.8,271.5 L1201.1,271.6 L1202.4,271.6 L1203.7,271.3 L1205.0,271.5 L1206.3,271.5 L1207.6,271.3 L1208.9,271.6 L1210.2,270.6 L1211.5,271.5 L1212.8,271.0 L1214.1,271.6 L1215.4,271.2 L1216.7,271.0 L1218.0,271.4 L1219.3,271.0 L1220.6,271.0 L1221.9,270.8 L1223.2,271.3 L1224.5,271.4 L1225.8,271.6 L1227.1,271.2 L1228.4,271.6 L1229.7,271.2 L1231.0,271.2 L1232.3,271.4 L1233.6,271.6 L1234.9,271.1 L1236.2,271.1 L1237.5,271.2 L1238.8,271.2 L1240.1,270.9 L1241.4,271.5 L1242.7,271.1 L1244.0,271.3 L1245.3,270.9 L1246.6,271.3 L1247.9,271.3 L1249.2,271.0 L1250.5,271.8 L1251.8,271.3 L1253.1,271.7 L1254.4,271.5 L1255.7,270.9 L1257.0,271.0 L1258.3,271.3 L1259.6,271.2 L1260.9,271.1 L1262.2,271.0 L1263.5,270.5 L1264.8,271.0 L1266.1,270.4 L1267.4,271.2 L1268.7,270.9 L1270.0,270.9 L1271.3,271.0 L1272.6,271.2 L1273.9,270.6 L1275.2,270.5 L1276.5,270.7 L1277.8,270.4 L1279.1,270.7 L1280.4,271.6 L1281.7,270.7 L1283.0,271.2 L1284.3,270.6 L1285.6,271.1 L1286.9,270.9 L1288.2,271.0 L1289.5,271.2 L1290.0,271.6 L1290.8,271.0 L1292.1,270.9 L1293.4,270.3 L1294.7,270.5 L1296.0,269.9 L1297.3,269.9 L1298.6,269.3 L1299.9,269.6 L1300.0,268.4 L1301.2,268.6 L1302.5,268.6 L1303.8,267.7 L1305.1,267.2 L1306.4,267.1 L1307.7,266.6 L1308.0,267.0 L1309.0,267.8 L1310.3,267.7 L1311.6,267.3 L1312.9,267.8 L1314.2,268.4 L1315.5,269.2 L1316.0,268.7 L1316.8,269.0 L1318.1,269.8 L1319.4,270.2 L1320.7,270.2 L1322.0,270.3 L1323.3,270.4 L1324.6,270.8 L1325.0,270.3 L1325.9,271.2 L1327.2,270.8 L1328.5,271.2 L1329.8,271.6 L1331.1,271.4 L1332.4,270.6 L1333.7,271.3 L1335.0,271.4 L1336.3,270.8 L1337.6,270.7 L1338.9,271.0 L1340.2,270.5 L1341.5,271.5 L1342.8,270.2 L1344.1,270.6 L1345.4,270.9 L1346.7,270.9 L1348.0,271.1 L1349.3,271.1 L1350.6,270.9 L1351.9,271.4 L1353.2,270.3 L1354.5,271.0 L1355.8,270.8 L1357.1,271.0 L1358.4,271.1 L1359.7,270.7 L1361.0,270.8 L1362.3,271.3 L1363.6,271.1 L1364.9,270.8 L1366.2,271.7 L1367.5,271.7 L1368.8,270.5 L1370.1,271.1 L1371.4,271.8 L1372.7,271.3 L1374.0,271.1 L1375.3,270.9 L1376.6,270.8 L1377.9,270.9 L1379.2,270.8 L1380.5,271.2 L1381.8,270.9 L1383.1,270.9 L1384.4,270.6 L1385.7,271.0 L1387.0,270.7 L1388.3,270.9 L1389.6,271.3 L1390.9,271.1 L1392.2,271.2 L1393.5,271.1 L1394.8,271.0 L1396.1,271.0 L1397.4,270.9 L1398.7,271.2 L1400.0,270.7 L1401.3,271.4 L1402.6,271.0 L1403.9,270.8 L1405.2,270.8 L1406.5,270.8 L1407.8,271.1 L1409.1,270.8 L1410.4,271.4 L1411.7,270.7 L1413.0,270.3 L1414.3,270.8 L1415.6,270.4 L1416.9,271.0 L1418.2,271.3 L1419.5,271.2 L1420.8,270.6 L1422.1,270.8 L1423.4,271.6 L1424.7,271.1 L1426.0,271.0 L1427.3,271.3 L1428.6,271.8 L1429.9,271.4 L1431.2,271.0 L1432.5,271.1 L1433.8,271.2 L1435.1,270.8 L1436.4,270.7 L1437.7,271.0 L1439.0,270.7 L1440.3,271.0 L1441.6,271.0 L1442.9,271.7 L1444.2,270.7 L1445.5,271.0 L1446.8,270.9 L1448.1,271.1 L1449.4,271.3 L1450.7,270.8 L1452.0,270.7 L1453.3,270.5 L1454.6,270.7 L1455.9,271.2 L1457.2,271.0 L1458.5,270.7 L1459.8,270.9 L1461.1,271.0 L1462.4,271.2 L1463.7,270.8 L1465.0,270.9 L1466.3,270.4 L1467.6,270.6 L1468.9,271.5 L1470.2,270.3 L1471.5,270.9 L1472.8,271.1 L1474.1,270.9 L1475.4,270.7 L1476.7,271.0 L1478.0,271.0 L1479.3,271.0 L1480.6,270.4 L1481.9,271.0 L1483.2,270.7 L1484.5,270.8 L1485.8,271.1 L1487.1,271.2 L1488.4,271.3 L1489.7,270.8 L1491.0,271.3 L1492.3,271.4 L1493.6,271.4 L1494.9,271.4 L1496.2,271.0 L1497.5,270.9 L1498.8,271.3 L1500.1,270.6 L1501.4,271.1 L1502.7,270.8 L1504.0,270.9 L1505.3,270.4 L1506.6,270.7 L1507.9,271.0 L1509.2,271.3 L1510.5,271.3 L1511.8,271.0 L1513.1,270.9 L1514.4,270.7 L1515.7,271.1 L1517.0,270.9 L1518.3,271.2 L1519.6,271.6 L1520.9,271.0 L1522.2,270.5 L1523.5,270.7 L1524.8,270.5 L1526.1,270.6 L1527.4,271.4 L1528.7,271.1 L1530.0,270.5 L1530.0,271.2 L1531.3,270.9 L1532.6,269.2 L1533.9,267.9 L1534.0,267.9 L1535.2,266.7 L1536.5,265.4 L1537.0,265.4 L1537.8,265.4 L1539.1,265.6 L1540.4,265.9 L1541.0,265.7 L1541.7,264.6 L1543.0,262.9 L1543.5,262.1 L1544.3,260.0 L1545.6,257.3 L1546.0,256.6 L1546.9,257.9 L1548.2,262.8 L1548.5,263.2 L1549.5,264.7 L1550.8,266.3 L1551.0,266.3 L1552.1,265.9 L1553.4,264.4 L1554.7,264.5 L1555.0,264.6 L1556.0,265.0 L1557.3,267.2 L1558.0,268.4 L1558.6,268.5 L1559.9,269.5 L1561.0,271.1 L1561.2,270.4 L1562.5,270.4 L1563.8,271.0 L1565.1,271.1 L1566.0,270.8 L1566.4,271.3 L1567.7,270.8 L1569.0,270.7 L1570.3,271.1 L1571.6,271.2 L1572.9,270.8 L1574.2,271.1 L1575.5,271.0 L1576.8,271.9 L1578.1,270.8 L1579.4,271.4 L1580.7,271.0 L1582.0,271.0 L1583.3,271.2 L1584.6,271.3 L1585.9,271.4 L1587.2,271.1 L1588.5,270.8 L1589.8,270.8 L1591.1,271.2 L1592.4,271.2 L1593.7,271.4 L1595.0,271.1 L1596.3,271.3 L1597.6,271.5 L1598.9,271.1 L1600.2,270.5 L1601.5,270.6 L1602.8,270.5 L1604.1,271.5 L1605.4,270.7 L1606.7,271.4 L1608.0,271.2 L1608.0,271.5 L1609.3,270.9 L1610.6,269.6 L1611.9,268.7 L1613.0,268.5 L1613.2,268.6 L1614.5,268.3 L1615.8,268.5 L1617.1,269.0 L1618.4,268.0 L1619.7,268.6 L1621.0,268.2 L1622.3,268.6 L1623.6,268.8 L1624.9,268.5 L1625.0,268.7 L1626.2,268.3 L1627.5,269.8 L1628.8,270.0 L1630.1,271.0 L1631.0,271.1 L1631.4,270.2 L1632.7,270.8 L1634.0,271.1 L1635.3,271.5 L1636.6,271.1 L1637.9,271.1 L1639.2,270.5 L1640.5,271.5 L1641.8,271.6 L1643.1,271.0 L1644.4,270.9 L1645.7,270.5 L1647.0,271.3 L1648.3,271.9 L1649.6,271.2 L1650.9,271.4 L1652.2,271.2 L1653.5,270.7 L1654.8,271.4 L1656.1,270.6 L1657.4,270.9 L1658.7,271.1 L1660.0,271.3 L1661.3,271.1 L1662.6,271.1 L1663.9,270.8 L1665.2,270.6 L1666.5,271.0 L1667.8,270.8 L1669.1,270.6 L1670.4,270.6 L1671.7,270.8 L1673.0,270.4 L1674.3,270.6 L1675.6,270.5 L1676.9,271.1 L1678.2,271.1 L1679.5,271.6 L1680.8,270.5 L1682.1,270.8 L1683.4,271.3 L1684.7,270.9 L1686.0,270.9 L1687.3,271.5 L1688.6,270.9 L1689.9,270.6 L1691.0,270.6"/>
</g>
<g fill="none" stroke="#000" shape-rendering="crispEdges">
<line x1="307.5" y1="237.2" x2="307.5" y2="1203" stroke-width="5" stroke-dasharray="17.5 12.06"/>
<line x1="466.5" y1="239" x2="464.5" y2="1203" stroke-width="5" stroke-dasharray="17.5 12.06"/>
<line x1="591" y1="1203" x2="591" y2="248" stroke-width="4" stroke-dasharray="17.5 12.00"/>
<line x1="632.5" y1="1203" x2="632.5" y2="107" stroke-width="5" stroke-dasharray="17.5 12.00"/>
<line x1="668.5" y1="217" x2="668.5" y2="1203" stroke-width="5" stroke-dasharray="17.5 12.06"/>
</g>
<g fill="none" shape-rendering="crispEdges">
<line x1="1025" y1="338.5" x2="1178.5" y2="338.5" stroke="#f00" stroke-width="3"/>
<line x1="1067" y1="682.5" x2="1221.3" y2="682.5" stroke="#f0f" stroke-width="3"/>
<line x1="1282" y1="1086.5" x2="1436" y2="1086.5" stroke="#000" stroke-width="3"/>
</g>
<g font-size="68">
<text transform="translate(1193,361.5) scale(1,1.04)">1000</text>
<text transform="translate(1365.7,323.6) scale(1,0.92)" font-size="40">o</text>
<text transform="translate(1387.3,361.5) scale(1,1.04)">C (336 h)</text>
<text transform="translate(1238,704.8) scale(1,1.04)">1000</text>
<text transform="translate(1400.8,667.3) scale(1,0.92)" font-size="40">o</text>
<text transform="translate(1422.6,704.8) scale(1,1.04)">C (24 h)</text>
<text transform="translate(1453.3,1108.5) scale(1,1.04)">as-cast</text>
<text transform="translate(106.0,1284) scale(1,1.04)" text-anchor="middle">30</text>
<text transform="translate(633.5,1284) scale(1,1.04)" text-anchor="middle">40</text>
<text transform="translate(1161.5,1284) scale(1,1.04)" text-anchor="middle">50</text>
<text transform="translate(1690.0,1284) scale(1,1.04)" text-anchor="middle">60</text>
</g>
<g font-size="72">
<text transform="translate(725.5,1375) scale(1,1.04)">2</text>
<text class="ser" x="767.8" y="1374.5" font-size="68">Θ</text>
<text x="815.5" y="1375">, degrees</text>
</g>
<text transform="translate(73,241) rotate(-90) scale(1,1.04)" font-size="73"><tspan font-style="italic">I</tspan>, a.u.</text>
</svg>
</body></html>
